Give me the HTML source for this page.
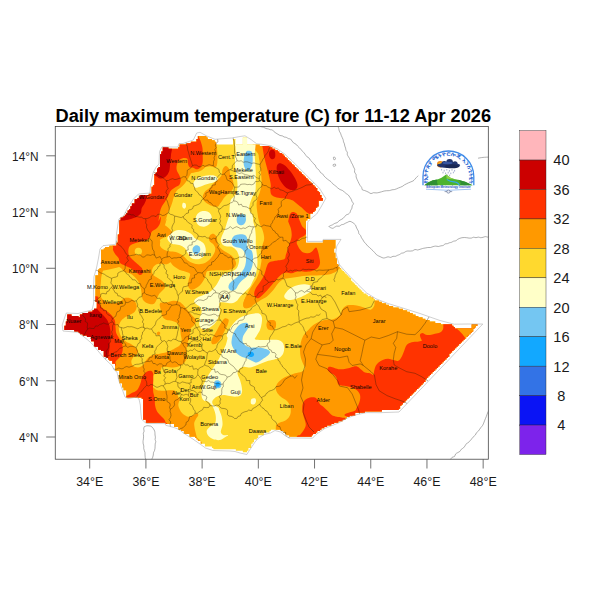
<!DOCTYPE html>
<html><head><meta charset="utf-8"><title>Daily maximum temperature</title>
<style>
html,body{margin:0;padding:0;background:#fff;}
body{width:600px;height:600px;overflow:hidden;position:relative;font-family:"Liberation Sans",sans-serif;}
svg{position:absolute;left:0;top:0;display:block}
text{font-family:"Liberation Sans",sans-serif;}
.zl{font-size:5.6px;fill:#0a0703;text-anchor:middle}
.ax{font-size:13.2px;fill:#1a1a1a}
.cb{font-size:15.4px;fill:#1a1a1a}
</style></head><body>
<svg width="600" height="600" viewBox="0 0 600 600">
<rect x="0" y="0" width="600" height="600" fill="#fff"/>

<defs><clipPath id="fr"><rect x="55.25" y="126.5" width="433.05" height="332.7"/></clipPath>
<clipPath id="eth"><path d="M197.89,136.11h8.43v1.45h-8.43zM197.89,137.51h9.83v1.45h-9.83zM242.83,137.51h4.21v1.45h-4.21zM196.48,138.92h15.45v1.45h-15.45zM233.00,138.92h2.81v1.45h-2.81zM242.83,138.92h4.21v1.45h-4.21zM196.48,140.32h18.26v1.45h-18.26zM233.00,140.32h2.81v1.45h-2.81zM242.83,140.32h4.21v1.45h-4.21zM190.86,141.73h25.28v1.45h-25.28zM233.00,141.73h2.81v1.45h-2.81zM242.83,141.73h4.21v1.45h-4.21zM186.65,143.13h29.49v1.45h-29.49zM233.00,143.13h2.81v1.45h-2.81zM242.83,143.13h4.21v1.45h-4.21zM179.63,144.53h80.06v1.45h-80.06zM179.63,145.94h89.89v1.45h-89.89zM162.77,147.34h5.62v1.45h-5.62zM178.22,147.34h94.10v1.45h-94.10zM162.77,148.75h112.36v1.45h-112.36zM162.77,150.15h115.17v1.45h-115.17zM161.37,151.56h117.98v1.45h-117.98zM161.37,152.96h120.79v1.45h-120.79zM159.97,154.37h123.60v1.45h-123.60zM159.97,155.77h125.00v1.45h-125.00zM159.97,157.17h126.41v1.45h-126.41zM159.97,158.58h127.81v1.45h-127.81zM159.97,159.98h129.21v1.45h-129.21zM159.97,161.39h130.62v1.45h-130.62zM159.97,162.79h132.02v1.45h-132.02zM159.97,164.20h133.43v1.45h-133.43zM159.97,165.60h134.83v1.45h-134.83zM158.56,167.01h137.64v1.45h-137.64zM157.16,168.41h140.45v1.45h-140.45zM157.16,169.81h141.85v1.45h-141.85zM157.16,171.22h143.26v1.45h-143.26zM155.75,172.62h146.07v1.45h-146.07zM154.35,174.03h148.88v1.45h-148.88zM154.35,175.43h150.28v1.45h-150.28zM154.35,176.84h151.69v1.45h-151.69zM154.35,178.24h153.09v1.45h-153.09zM154.35,179.65h154.50v1.45h-154.50zM154.35,181.05h155.90v1.45h-155.90zM154.35,182.46h157.30v1.45h-157.30zM154.35,183.86h158.71v1.45h-158.71zM152.94,185.26h161.52v1.45h-161.52zM151.54,186.67h164.33v1.45h-164.33zM151.54,188.07h165.73v1.45h-165.73zM151.54,189.48h165.73v1.45h-165.73zM151.54,190.88h167.14v1.45h-167.14zM151.54,192.29h168.54v1.45h-168.54zM148.73,193.69h171.35v1.45h-171.35zM140.30,195.10h181.18v1.45h-181.18zM138.90,196.50h182.59v1.45h-182.59zM137.49,197.91h185.39v1.45h-185.39zM134.68,199.31h188.20v1.45h-188.20zM134.68,200.71h183.99v1.45h-183.99zM134.68,202.12h183.99v1.45h-183.99zM131.88,203.52h186.80v1.45h-186.80zM131.88,204.93h186.80v1.45h-186.80zM130.47,206.33h186.80v1.45h-186.80zM130.47,207.74h185.39v1.45h-185.39zM129.07,209.14h186.80v1.45h-186.80zM127.66,210.55h186.80v1.45h-186.80zM127.66,211.95h185.39v1.45h-185.39zM126.26,213.35h183.99v1.45h-183.99zM124.85,214.76h185.39v1.45h-185.39zM123.45,216.16h186.80v1.45h-186.80zM120.64,217.57h189.61v1.45h-189.61zM120.64,218.97h186.80v1.45h-186.80zM119.23,220.38h186.80v1.45h-186.80zM119.23,221.78h186.80v1.45h-186.80zM119.23,223.19h186.80v1.45h-186.80zM119.23,224.59h186.80v1.45h-186.80zM119.23,226.00h186.80v1.45h-186.80zM119.23,227.40h186.80v1.45h-186.80zM119.23,228.80h186.80v1.45h-186.80zM119.23,230.21h186.80v1.45h-186.80zM119.23,231.61h186.80v1.45h-186.80zM119.23,233.02h186.80v1.45h-186.80zM117.83,234.42h188.20v1.45h-188.20zM117.83,235.83h188.20v1.45h-188.20zM117.83,237.23h188.20v1.45h-188.20zM117.83,238.64h188.20v1.45h-188.20zM117.83,240.04h188.20v1.45h-188.20zM322.89,240.04h12.64v1.45h-12.64zM117.83,241.44h188.20v1.45h-188.20zM322.89,241.44h12.64v1.45h-12.64zM116.43,242.85h219.10v1.45h-219.10zM116.43,244.25h219.10v1.45h-219.10zM109.40,245.66h226.12v1.45h-226.12zM105.19,247.06h230.34v1.45h-230.34zM103.79,248.47h230.34v1.45h-230.34zM100.98,249.87h233.15v1.45h-233.15zM100.98,251.28h233.15v1.45h-233.15zM100.98,252.68h234.55v1.45h-234.55zM100.98,254.09h234.55v1.45h-234.55zM100.98,255.49h234.55v1.45h-234.55zM100.98,256.89h234.55v1.45h-234.55zM100.98,258.30h235.96v1.45h-235.96zM100.98,259.70h235.96v1.45h-235.96zM100.98,261.11h235.96v1.45h-235.96zM100.98,262.51h235.96v1.45h-235.96zM100.98,263.92h237.36v1.45h-237.36zM100.98,265.32h237.36v1.45h-237.36zM100.98,266.73h238.77v1.45h-238.77zM99.57,268.13h241.57v1.45h-241.57zM98.17,269.53h244.38v1.45h-244.38zM98.17,270.94h245.79v1.45h-245.79zM98.17,272.34h247.19v1.45h-247.19zM98.17,273.75h248.60v1.45h-248.60zM95.36,275.15h252.81v1.45h-252.81zM95.36,276.56h254.21v1.45h-254.21zM95.36,277.96h255.62v1.45h-255.62zM95.36,279.37h255.62v1.45h-255.62zM95.36,280.77h257.02v1.45h-257.02zM95.36,282.18h258.43v1.45h-258.43zM95.36,283.58h259.83v1.45h-259.83zM95.36,284.98h261.24v1.45h-261.24zM95.36,286.39h262.64v1.45h-262.64zM95.36,287.79h264.05v1.45h-264.05zM95.36,289.20h265.45v1.45h-265.45zM95.36,290.60h266.86v1.45h-266.86zM95.36,292.01h268.26v1.45h-268.26zM95.36,293.41h271.07v1.45h-271.07zM95.36,294.82h272.47v1.45h-272.47zM95.36,296.22h275.28v1.45h-275.28zM95.36,297.62h278.09v1.45h-278.09zM95.36,299.03h279.50v1.45h-279.50zM95.36,300.43h283.71v1.45h-283.71zM96.76,301.84h285.11v1.45h-285.11zM96.76,303.24h289.33v1.45h-289.33zM96.76,304.65h292.14v1.45h-292.14zM96.76,306.05h296.35v1.45h-296.35zM96.76,307.46h301.97v1.45h-301.97zM93.95,308.86h308.99v1.45h-308.99zM92.55,310.26h314.61v1.45h-314.61zM88.34,311.67h321.63v1.45h-321.63zM82.72,313.07h330.06v1.45h-330.06zM67.27,314.48h4.21v1.45h-4.21zM79.91,314.48h335.68v1.45h-335.68zM67.27,315.88h11.24v1.45h-11.24zM79.91,315.88h338.48v1.45h-338.48zM67.27,317.29h355.34v1.45h-355.34zM67.27,318.69h358.15v1.45h-358.15zM67.27,320.10h362.36v1.45h-362.36zM65.86,321.50h369.38v1.45h-369.38zM65.86,322.91h375.00v1.45h-375.00zM65.86,324.31h386.24v1.45h-386.24zM471.76,324.31h5.62v1.45h-5.62zM64.46,325.71h389.05v1.45h-389.05zM471.76,325.71h4.21v1.45h-4.21zM64.46,327.12h390.45v1.45h-390.45zM471.76,327.12h2.81v1.45h-2.81zM64.46,328.52h408.71v1.45h-408.71zM74.29,329.93h398.88v1.45h-398.88zM78.50,331.33h393.26v1.45h-393.26zM79.91,332.74h390.45v1.45h-390.45zM82.72,334.14h386.24v1.45h-386.24zM86.93,335.55h380.62v1.45h-380.62zM91.14,336.95h375.00v1.45h-375.00zM91.14,338.36h373.60v1.45h-373.60zM91.14,339.76h372.19v1.45h-372.19zM93.95,341.16h367.98v1.45h-367.98zM93.95,342.57h366.57v1.45h-366.57zM93.95,343.97h365.17v1.45h-365.17zM93.95,345.38h363.77v1.45h-363.77zM98.17,346.78h358.15v1.45h-358.15zM98.17,348.19h356.74v1.45h-356.74zM100.98,349.59h352.53v1.45h-352.53zM103.79,351.00h348.32v1.45h-348.32zM103.79,352.40h346.91v1.45h-346.91zM103.79,353.80h345.51v1.45h-345.51zM103.79,355.21h345.51v1.45h-345.51zM106.59,356.61h341.29v1.45h-341.29zM108.00,358.02h338.48v1.45h-338.48zM109.40,359.42h335.68v1.45h-335.68zM112.21,360.83h331.46v1.45h-331.46zM112.21,362.23h330.06v1.45h-330.06zM115.02,363.64h325.84v1.45h-325.84zM115.02,365.04h324.44v1.45h-324.44zM115.02,366.45h323.04v1.45h-323.04zM115.02,367.85h321.63v1.45h-321.63zM115.02,369.25h320.23v1.45h-320.23zM119.23,370.66h314.61v1.45h-314.61zM119.23,372.06h313.20v1.45h-313.20zM119.23,373.47h311.80v1.45h-311.80zM119.23,374.87h310.39v1.45h-310.39zM119.23,376.28h308.99v1.45h-308.99zM119.23,377.68h307.59v1.45h-307.59zM119.23,379.09h306.18v1.45h-306.18zM119.23,380.49h306.18v1.45h-306.18zM119.23,381.89h304.78v1.45h-304.78zM122.04,383.30h300.56v1.45h-300.56zM122.04,384.70h299.16v1.45h-299.16zM122.04,386.11h297.75v1.45h-297.75zM123.45,387.51h294.94v1.45h-294.94zM123.45,388.92h293.54v1.45h-293.54zM126.26,390.32h289.33v1.45h-289.33zM126.26,391.73h287.92v1.45h-287.92zM126.26,393.13h286.52v1.45h-286.52zM126.26,394.54h285.11v1.45h-285.11zM126.26,395.94h283.71v1.45h-283.71zM141.71,397.34h266.86v1.45h-266.86zM143.11,398.75h264.05v1.45h-264.05zM143.11,400.15h262.64v1.45h-262.64zM143.11,401.56h261.24v1.45h-261.24zM143.11,402.96h259.83v1.45h-259.83zM143.11,404.37h258.43v1.45h-258.43zM143.11,405.77h257.02v1.45h-257.02zM143.11,407.18h257.02v1.45h-257.02zM143.11,408.58h255.62v1.45h-255.62zM143.11,409.98h238.77v1.45h-238.77zM143.11,411.39h221.91v1.45h-221.91zM143.11,412.79h212.08v1.45h-212.08zM143.11,414.20h212.08v1.45h-212.08zM143.11,415.60h206.46v1.45h-206.46zM143.11,417.01h203.65v1.45h-203.65zM143.11,418.41h202.25v1.45h-202.25zM145.92,419.82h196.63v1.45h-196.63zM145.92,421.22h192.42v1.45h-192.42zM165.58,422.62h168.54v1.45h-168.54zM174.01,424.03h157.30v1.45h-157.30zM174.01,425.43h153.09v1.45h-153.09zM178.22,426.84h146.07v1.45h-146.07zM178.22,428.24h143.26v1.45h-143.26zM181.03,429.65h89.89v1.45h-89.89zM280.75,429.65h39.33v1.45h-39.33zM183.84,431.05h85.67v1.45h-85.67zM283.56,431.05h33.71v1.45h-33.71zM183.84,432.46h80.06v1.45h-80.06zM284.97,432.46h30.90v1.45h-30.90zM189.46,433.86h74.44v1.45h-74.44zM286.37,433.86h26.69v1.45h-26.69zM189.46,435.27h68.82v1.45h-68.82zM289.18,435.27h22.47v1.45h-22.47zM195.08,436.67h63.20v1.45h-63.20zM196.48,438.07h60.39v1.45h-60.39zM197.89,439.48h56.18v1.45h-56.18zM200.70,440.88h53.37v1.45h-53.37zM200.70,442.29h51.97v1.45h-51.97zM204.91,443.69h46.35v1.45h-46.35zM204.91,445.10h46.35v1.45h-46.35zM211.93,446.50h39.33v1.45h-39.33zM213.34,447.91h35.11v1.45h-35.11zM235.81,449.31h12.64v1.45h-12.64zM242.83,450.72h4.21v1.45h-4.21z"/></clipPath><clipPath id="ethb"><path d="M193.3,140 196.7,133 200,132.3 206.7,136 215,139.3 231.7,138 240,136.5 245,135.8 251,139.5 256.7,143.8 262,144.3 271,145.8 278,149.3 285,154.3 292,160.8 299,167.8 306,174.8 313,181.8 319.5,188.3 323.5,194.8 325.8,198.3 321,207 316.7,214 311,218.5 307.7,222 307.2,241.4 323,241.4 323.3,239.4 341,239.4 336.8,246 335.8,252.5 337.2,258 339.3,264.5 344,270 350,276.5 357.5,284 366.7,293 376,298.8 388,303.5 400,307.2 420,313.5 440,320.5 454.2,324.2 468,324 482.8,324 479,328 440,369 399,412 380,412.7 366.5,412.6 356,414.8 347,418.2 338,423.2 325,428.3 316,434.5 312.5,438.2 301.7,438 289,438 285,435.6 280.5,432 275,430.5 270.5,433 264,434.5 258.5,438 255,442 252,446.5 249,451 246.8,454.5 240,453 235,451.5 230,451 213,450.5 205.5,448 200,444 192,438.5 185,434 178.5,429.3 174,427.5 165.8,425.3 165,423.6 146.5,423.5 143.3,421 141.5,419 140.8,412 140.3,405 139,399 136.5,397 130,398.3 128,398.5 125,397 123,391.5 121,386 118.6,380 117,372 114.2,370 112,365.5 106,360 101,354.5 96,348.5 91.3,343 86,338.5 78,332.3 63,331 62.2,325 64.5,318 66.3,313 78,313.5 81.3,312.7 92,310 93.5,304 93.8,300 93.5,290 94,276.5 96.5,268 98.5,258 100,249 103,245.7 115.8,244.3 116.5,234 118.3,222 119,219 124,215.3 127,209 130,204.3 133.5,199 138.5,194 150,193 150.5,185.5 153,173 156,167.3 159,164 159.5,151.5 162,146.8 170,147 178,147 179,143.5 183,143.5Z"/></clipPath></defs>
<g clip-path="url(#fr)" fill="none" stroke="#7c7c7c" stroke-width="0.6" stroke-linejoin="round">
<path d="M258,126C258.5,126.1 259.8,126.4 260.7,126.6C261.6,126.8 262.6,126.9 263.5,127.2C264.3,127.6 265.2,128.2 266,128.5C266.8,128.8 267.5,128.7 268.2,128.9C268.9,129.1 269.6,129.5 270.3,129.7C271,129.8 271.9,129.7 272.5,130C273.1,130.3 273.5,131.3 274.1,131.8C274.7,132.3 275.4,132.7 276,133.1C276.7,133.5 277.3,133.9 278,134.3C278.6,134.7 279.3,135.2 280,135.5C280.7,135.8 281.5,135.6 282.2,135.8C282.9,136.1 283.5,136.7 284.2,137C284.9,137.2 285.7,137.1 286.4,137.4C287.1,137.6 287.6,138.3 288.3,138.6C289,138.9 289.9,138.6 290.5,139C291.1,139.4 291.5,140.3 292,141C292.6,141.6 293,142.3 293.6,142.9C294.3,143.4 295.2,143.6 295.9,144.1C296.5,144.7 296.9,145.4 297.5,146C298.1,146.6 298.7,147.1 299.3,147.7C299.9,148.3 300.5,148.9 301,149.5C301.5,150.1 301.9,150.7 302.5,151.3C303,151.9 303.6,152.4 304.1,152.9C304.6,153.5 305,154.2 305.5,154.8C306,155.5 306.4,156.2 306.9,156.7C307.5,157.2 308.5,157.4 309,158C309.6,158.5 309.7,159.4 310.2,160C310.7,160.6 311.4,161 311.9,161.6C312.5,162.2 312.8,162.9 313.3,163.5C313.8,164.1 314.6,164.4 315.1,165C315.6,165.6 315.6,166.6 316,167.3C316.5,167.9 317.2,168.3 317.7,168.9C318.3,169.4 318.9,169.9 319.4,170.5C319.9,171.1 320,172 320.5,172.6C321.1,173.2 322.1,173.3 322.6,173.9C323.2,174.4 323.4,175.2 323.9,175.8C324.4,176.4 324.9,177 325.5,177.5C326.1,178 326.7,178.5 327.3,179C327.9,179.4 328.5,179.9 329.1,180.4C329.7,180.8 330.5,181.2 331,181.7C331.6,182.2 331.9,183 332.5,183.6C333,184.1 333.7,184.6 334.3,185C334.9,185.5 335.5,185.9 336.1,186.4C336.7,186.9 337.2,187.5 337.8,188C338.4,188.5 339.1,189.1 339.9,189.5C340.6,189.9 341.5,190 342.3,190.4C343,190.8 343.6,191.4 344.3,191.9C345,192.4 345.5,193.1 346.2,193.6C346.9,194.1 347.7,194.4 348.3,195C348.9,195.6 349.4,196.4 349.8,197.1C350.3,197.8 350.8,198.4 351.2,199.2C351.6,200 351.7,200.9 352.1,201.6C352.5,202.4 353.5,203.1 353.5,203.8C353.5,204.5 352.5,205.1 352.2,205.8C352,206.6 352.2,207.5 351.9,208.2C351.7,209 351.1,209.6 350.7,210.3C350.4,211 350.4,211.9 350,212.5C349.6,213.1 349,213.7 348.4,214.1C347.8,214.5 346.8,214.5 346.2,214.9C345.6,215.3 345.2,216.1 344.7,216.6C344.2,217.2 343.8,217.8 343.2,218.3C342.6,218.8 342,219.1 341.3,219.5C340.6,219.9 339.7,220.2 339.1,220.8C338.4,221.3 337.9,222.2 337.2,222.6C336.4,223.1 335.4,223 334.7,223.4C333.9,223.8 333.4,224.3 332.5,224.8C331.6,225.3 329,225.9 329,226.5C329,227.1 331.6,228.2 332.5,228.3C333.4,228.4 333.9,227.6 334.6,227.2C335.3,226.9 336,226.3 336.7,226.1C337.5,226 338.5,226.4 339.3,226.2C340.1,226 340.6,225.1 341.3,224.8C342,224.5 342.9,224.6 343.6,224.3C344.4,224 345,223.5 345.7,223.1C346.4,222.8 347.1,222.5 347.8,222.2C348.5,221.9 349.2,221.2 350,221.3C350.8,221.4 352,222.2 352.9,222.7C353.7,223.3 354.7,224.1 355.3,224.8C355.9,225.5 355.9,226.2 356.2,227C356.5,227.7 356.8,228.4 357.2,229.1C357.5,229.8 358.1,230.4 358.4,231.1C358.7,231.9 358.5,232.8 358.8,233.5C359.1,234.2 360,234.7 360.5,235.4C360.9,236.1 361.1,237 361.5,237.8C361.9,238.5 362.4,239.1 362.9,239.8C363.4,240.5 363.7,241.3 364.2,242C364.7,242.6 365.4,243.2 365.9,243.8C366.5,244.5 366.9,245.2 367.5,245.8C368.1,246.4 368.8,246.8 369.4,247.4C370,247.9 370.6,248.5 371.2,249.1C371.8,249.7 372.5,250.2 373,250.8C373.6,251.3 374.1,252 374.7,252.6C375.2,253.2 375.7,253.9 376.3,254.5C376.9,255.1 377.8,255.5 378.5,255.9C379.3,256.3 380.1,256.7 380.9,257C381.7,257.4 382.5,257.9 383.3,258C384.1,258.1 384.9,257.8 385.7,257.6C386.5,257.4 387.3,256.8 388.1,256.8C388.9,256.8 389.9,257.5 390.7,257.4C391.5,257.3 392.2,256.5 393,256.3C393.8,256.2 394.8,256.5 395.5,256.3C396.2,256.1 396.8,255.6 397.5,255.3C398.2,255 398.9,254.9 399.6,254.5C400.3,254.2 400.8,253.5 401.5,253.2C402.2,253 403,253.1 403.7,252.8C404.4,252.6 404.9,251.9 405.6,251.6C406.3,251.2 407,251.1 407.8,251C408.6,250.9 409.5,251.2 410.3,251.1C411.1,251.1 412,251 412.7,250.8C413.5,250.5 414.2,249.6 415,249.5C415.9,249.3 416.8,250 417.6,250C418.4,249.9 419.2,249.5 420,249.3C420.8,249.1 421.7,248.7 422.6,248.5C423.4,248.2 424.3,248.2 425.2,248C426.1,247.9 426.9,247.6 427.8,247.5C428.7,247.4 429.6,247.6 430.5,247.5C431.4,247.4 432.2,246.8 433.1,246.6C433.9,246.4 434.8,246.1 435.7,246.1C436.6,246.1 437.5,246.5 438.4,246.5C439.3,246.4 440.2,246 441,245.8C441.8,245.6 442.6,245.8 443.2,245.5C443.9,245.2 444.3,244.2 445,243.9C445.7,243.6 446.6,243.9 447.3,243.7C448,243.5 448.6,243 449.3,242.8C450,242.6 450.8,242.6 451.5,242.3C452.2,242 452.8,241.4 453.5,241.2C454.2,240.9 455.1,241.1 455.8,240.8C456.5,240.5 457.1,239.8 457.7,239.3C458.4,238.9 459,238.6 459.8,238.3C460.5,238 461.2,237.8 462,237.7C462.8,237.6 463.6,237.5 464.3,237.5C465.1,237.5 465.9,237.6 466.7,237.7C467.4,237.8 468.2,238 469,238.1C469.8,238.2 470.6,238.2 471.3,238.1C472.1,237.9 472.9,237.3 473.7,237.2C474.4,237.2 475.2,237.7 476,237.7C476.8,237.7 477.5,237.1 478.3,237.1C479.1,237.1 479.9,237.6 480.7,237.7C481.5,237.7 482.3,237.5 483,237.3C483.8,237.2 484.5,236.6 485.3,236.6C486.1,236.5 486.9,237.1 487.7,237.1C488.5,237 489.6,236.4 490,236.3"/>
<path d="M337.5,124C337.6,124.4 337.8,125.6 338,126.4C338.3,127.2 338.6,127.9 338.8,128.7C339,129.5 339,130.3 339.3,131.1C339.6,131.8 340.1,132.5 340.5,133.2C340.8,134 341,134.8 341.3,135.5C341.6,136.2 341.9,136.9 342.2,137.5C342.5,138.2 342.9,138.9 343.1,139.6C343.4,140.3 343.3,141 343.5,141.8C343.7,142.5 344.2,143.1 344.4,143.8C344.6,144.5 344.6,145.3 344.8,146C345,146.7 345.4,147.3 345.6,148.1C345.8,148.8 345.7,149.6 346,150.3C346.2,151 347.1,151.5 347.3,152.2C347.5,152.9 347.1,153.8 347.3,154.5C347.4,155.2 347.9,155.8 348.3,156.5C348.7,157.2 349.1,157.8 349.5,158.5C349.9,159.2 350.3,159.9 350.6,160.6C350.9,161.3 351.2,162.1 351.5,162.8C351.8,163.5 352.3,164.1 352.7,164.8C353,165.5 353.2,166.2 353.5,167C353.8,167.8 354.6,168.5 354.7,169.3C354.9,170.2 354.3,171.2 354.5,172C354.7,172.9 355.7,173.5 356,174.3C356.3,175.1 356,176 356.1,176.9C356.3,177.7 356.7,178.5 357,179.3C357.3,180.1 357.7,180.7 358,181.4C358.4,182.1 358.7,182.8 359,183.5C359.4,184.2 359.7,184.9 360.2,185.6C360.6,186.3 361.4,186.8 361.7,187.5C362.1,188.2 361.8,189.3 362.3,189.8C362.8,190.3 363.8,190.2 364.6,190.5C365.3,190.8 366,191.1 366.8,191.4C367.5,191.8 368.2,192.1 368.9,192.4C369.6,192.8 370.2,193.6 371,193.6C371.8,193.6 372.7,192.8 373.5,192.7C374.4,192.6 375.4,193 376.3,192.9C377.2,192.9 378.1,192.7 378.9,192.5C379.8,192.3 380.6,192.1 381.5,191.8C382.4,191.5 383.2,191.2 384.1,191C384.9,190.8 385.8,190.7 386.7,190.7C387.6,190.6 388.6,190.8 389.4,190.6C390.3,190.5 391.2,190 392,189.8C392.8,189.6 393.5,189.7 394.3,189.6C395,189.4 395.7,189.1 396.4,188.9C397,188.6 397.7,188.3 398.4,188C399.1,187.7 399.8,187.5 400.5,187.2C401.2,186.9 401.8,186.7 402.5,186.3C403.2,185.9 403.8,185.3 404.4,184.9C405.1,184.5 405.8,184.1 406.5,183.8C407.2,183.4 407.9,183.1 408.6,182.8C409.4,182.5 410.1,182.2 410.8,181.9C411.5,181.6 412.3,181.4 413,181C413.7,180.6 414.3,179.9 414.8,179.3C415.4,178.7 415.9,178 416.5,177.4C417.1,176.8 418,175.9 418.3,175.6"/>
<path d="M478,158.2C478.8,158.1 481,157.6 483,157.4C485,157.2 488.8,157.1 490,157"/>
<path d="M333.5,157.2C333.7,156.9 334.9,157.2 335.2,157.6C335.5,157.9 335.5,159 335.3,159.3C335.1,159.6 334.1,159.9 333.8,159.6C333.5,159.2 333.3,157.5 333.5,157.2Z"/>
<path d="M333.2,164.6C333.5,164.2 335,164 335.4,164.2C335.8,164.4 335.9,165.5 335.6,165.8C335.3,166.2 334,166.5 333.6,166.3C333.2,166.1 332.9,164.9 333.2,164.6Z"/>
<path d="M490,408C489.8,408.3 489.4,409.4 489.1,410C488.7,410.7 488.3,411.3 488,412C487.7,412.7 487.4,413.5 487.1,414.2C486.9,415 486.6,415.7 486.3,416.5C486,417.2 485.8,418 485.4,418.7C485.1,419.4 484.8,420.1 484.5,420.9C484.2,421.6 484,422.4 483.7,423.1C483.4,423.9 483.1,424.6 482.7,425.3C482.3,426 481.6,426.5 481.1,427.2C480.6,427.8 480.2,428.5 479.7,429.2C479.2,429.8 478.8,430.5 478.3,431.2C477.7,431.8 476.9,432.2 476.4,432.8C476,433.5 475.8,434.4 475.3,435.1C474.8,435.7 474,436.1 473.4,436.7C472.9,437.3 472.5,438.1 472,438.7C471.5,439.3 470.7,439.8 470.2,440.4C469.6,441 469.2,441.8 468.6,442.4C467.9,442.9 467,443.2 466.4,443.7C465.8,444.3 465.5,445.2 465,445.9C464.5,446.6 464.1,447.3 463.4,447.9C462.8,448.5 461.9,448.7 461.3,449.3C460.7,449.9 460.5,450.8 459.9,451.4C459.3,451.9 458.5,452.2 457.8,452.6C457,453 456.2,453.3 455.7,453.9C455.1,454.5 455.2,455.8 454.6,456.4C454.1,456.9 452.8,456.8 452.1,457.3C451.5,457.7 451.2,458.6 450.7,459.2C450.1,459.9 449.3,460.7 449,461"/>
<path d="M144.2,426.7C144.6,426.6 145.9,425.9 146.7,425.8C147.5,425.7 148.4,425.7 149.3,425.9C150.1,426 150.9,426 151.7,426.7C152.5,427.4 153.7,429 154.2,430C154.7,431 154.8,431.6 154.9,432.4C155.1,433.3 154.9,434.2 155,435C155.1,435.8 155.4,436.5 155.4,437.2C155.4,438 155.1,438.8 155.1,439.5C155.2,440.3 155.8,441 155.8,441.7C155.8,442.4 155.3,443.1 155.2,443.9C155.1,444.6 155.1,445.3 155.1,446.1C155.1,446.8 155.1,447.6 155,448.3C154.9,449 154.7,449.8 154.5,450.6C154.3,451.3 153.7,451.9 153.5,452.7C153.3,453.4 153.4,454.2 153.3,455C153.2,455.8 153,456.6 152.7,457.3C152.4,458.1 151.9,458.8 151.7,459.6C151.5,460.3 151.5,461.6 151.5,462"/>
<path d="M144.2,426.7C144.1,427.1 143.7,428.1 143.7,428.9C143.7,429.6 144.2,430.4 144.1,431.2C144,431.9 143.4,432.5 143.3,433.3C143.2,434.1 143.6,435.2 143.6,436.1C143.6,437 143.5,438 143.4,438.9C143.3,439.8 143,440.9 143,441.7C143,442.5 143.1,443.2 143.2,443.9C143.4,444.6 143.8,445.3 143.8,446.1C143.9,446.8 143.6,447.6 143.7,448.3C143.8,449 144.1,449.8 144.3,450.5C144.5,451.2 144.8,451.9 145,452.7C145.1,453.4 145,454.2 145,455C145,455.8 145.1,456.6 145.2,457.4C145.3,458.2 145.5,459 145.7,459.7C145.9,460.5 146.4,461.6 146.5,462"/>
</g>
<g clip-path="url(#eth)">
<rect x="50" y="120" width="450" height="345" fill="#FFD92E"/>
<path d="M210,126.7C236.1,134.4 215.6,140.1 216.7,146.7C217.8,153.2 217.8,162.6 216.7,165.8C215.6,169.1 212.2,166.1 210,166.3C207.8,166.6 205.6,167 203.3,167.5C201.1,168 198.6,168.3 196.7,169.2C194.7,170 193.1,171 191.7,172.5C190.3,174 189.4,176.5 188.3,178.3C187.2,180.1 186.2,181.8 185,183.3C183.8,184.9 182.2,186.2 180.8,187.5C179.4,188.8 177.8,189.4 176.7,190.8C175.6,192.2 174.9,194 174.2,195.8C173.5,197.6 173.1,199.9 172.5,201.7C171.9,203.5 171.5,205 170.8,206.7C170.1,208.3 169,210 168.3,211.7C167.6,213.3 167.2,215 166.7,216.7C166.1,218.3 165,221.4 165,221.7C165,221.9 166.7,217.8 166.7,218.3C166.7,218.9 165.7,223.1 165,225C164.3,226.9 163.3,228.3 162.5,230C161.7,231.7 160.6,233.3 160,235C159.4,236.7 159.2,238.3 159.2,240C159.1,241.7 160.1,243.3 159.7,245C159.2,246.7 158.8,247.5 156.7,250C154.5,252.5 162.8,258.3 146.7,260C130.6,261.7 74.4,286.7 60,260C45.6,233.3 35,122.2 60,100C85,77.8 183.9,118.9 210,126.7Z" fill="#FF9900"/>
<path d="M196.7,133.3C201.1,133.6 204.8,133.9 206.7,135C208.5,136.1 207.1,138.3 207.7,140C208.3,141.7 209.5,143.1 210.3,145C211.2,146.9 212.4,149.4 212.7,151.7C212.9,153.9 212.5,156.4 211.8,158.3C211.2,160.3 209.8,161.9 208.7,163.3C207.6,164.8 206.5,165.8 205.3,167C204.2,168.2 203.1,169.5 201.7,170.3C200.2,171.2 199.2,171.6 196.7,172C194.2,172.4 189.4,173.9 186.7,172.5C183.9,171.1 181.1,169.9 180,163.3C178.9,156.8 177.2,138.3 180,133.3C182.8,128.3 192.2,133.1 196.7,133.3Z" fill="#FF9900"/>
<path d="M225.8,166C224.7,166 223.4,167.7 222.7,169.2C222,170.7 222.3,173.4 221.7,175C221,176.6 219.8,177.6 218.7,178.7C217.6,179.8 216.4,180.2 215,181.7C213.6,183.1 211.7,185.8 210,187.5C208.3,189.2 205.9,190.2 204.7,192C203.4,193.8 202.5,196.2 202.7,198C202.9,199.8 204.3,201.2 205.8,202.5C207.3,203.8 209.7,205.1 211.7,205.8C213.6,206.5 216.1,207.1 217.5,206.7C218.9,206.3 219.1,205 220.3,203.3C221.6,201.7 223.2,198.6 225,196.7C226.8,194.7 229.4,193.3 230.8,191.7C232.3,190 233.4,188.6 233.7,186.7C234,184.7 233.2,181.9 232.7,180C232.1,178.1 230.7,176.8 230.2,175C229.6,173.2 230.1,170.8 229.3,169.3C228.6,167.8 226.9,166 225.8,166Z" fill="#FF9900"/>
<path d="M146.7,240C148.8,235.8 156.9,239 159.2,240C161.4,241 159.3,244.3 160,245.8C160.7,247.4 161.8,248.2 163.3,249.2C164.9,250.1 167.1,250.9 169.2,251.3C171.2,251.8 173.9,251.5 175.8,252C177.8,252.5 179.4,253.4 180.8,254.2C182.2,254.9 182.9,255.6 184.2,256.7C185.4,257.8 186.8,259.7 188.3,260.8C189.9,261.9 191.5,262.8 193.3,263.3C195.1,263.9 197.1,264.3 199.2,264.2C201.2,264 203.9,263.5 205.8,262.5C207.8,261.5 209.4,259.9 210.8,258.3C212.2,256.8 213.4,255 214.2,253.3C214.9,251.7 215.5,249.9 215.3,248.3C215.2,246.8 214.2,245.3 213.3,244.2C212.4,243.1 210.8,242.6 210,241.7C209.2,240.7 208.8,239.4 208.8,238.3C208.9,237.2 209.6,235.8 210.3,235C211.1,234.2 212.3,233.4 213.3,233.7C214.3,233.9 215.7,235.1 216.3,236.3C217,237.5 217,239.4 217.3,240.8C217.7,242.3 217.6,243.6 218.3,245C219.1,246.4 220.3,247.9 221.7,249.2C223.1,250.4 225,251.4 226.7,252.5C228.3,253.6 230.3,254.6 231.7,255.8C233.1,257.1 234.3,258.6 235,260C235.7,261.4 236.3,262.8 236,264.2C235.7,265.6 234.9,267.3 233.3,268.3C231.8,269.4 229.2,270 226.7,270.3C224.2,270.7 221.1,270.2 218.3,270.3C215.6,270.4 211.9,270.6 210,270.8C208.1,271.1 207.4,270.7 206.7,271.7C205.9,272.6 205.9,275.1 205.3,276.7C204.8,278.2 204.2,279.4 203.3,280.8C202.4,282.3 201.4,284 200,285.3C198.6,286.6 196.5,287.9 195,288.7C193.5,289.4 192,290.1 190.8,289.7C189.7,289.2 188.4,287.4 188,285.8C187.6,284.2 188.3,282 188.7,280C189,278 190.6,275.2 190,273.8C189.4,272.4 186.8,272.2 185,271.5C183.2,270.8 181.1,270.6 179.2,269.7C177.2,268.7 174.9,267.1 173.3,265.8C171.8,264.6 171.4,262.8 170,262C168.6,261.2 166.7,260.8 165,260.8C163.3,260.8 161.4,261.6 160,262C158.6,262.4 158.3,262.6 156.7,263C155,263.4 151.7,263.8 150,264.2C148.3,264.5 147.2,269 146.7,265C146.1,261 144.6,244.2 146.7,240Z" fill="#FF9900"/>
<path d="M98,240C113,236.2 137.7,223.3 150,222C162.3,220.7 170.3,229 172,232C173.7,235 162.2,237.7 160,240C157.8,242.3 158.8,244 159,246C159.2,248 160,250 161,252C162,254 163.5,256.5 165,258C166.5,259.5 169.3,260.2 170,261C170.7,261.8 170,262.4 169.3,263C168.6,263.6 167.3,264.2 166,264.3C164.7,264.4 162.9,263.7 161.3,263.7C159.8,263.7 158,263.8 156.7,264.3C155.4,264.9 154.1,265.9 153.3,267C152.5,268.1 152,269.7 152,271C152,272.3 152.4,273.9 153.3,275C154.2,276.1 156,276.8 157.3,277.7C158.6,278.6 160.1,279.3 161.3,280.3C162.5,281.3 164,282.6 164.7,283.7C165.4,284.8 165.6,285.9 165.3,287C165,288.1 163.7,289.2 162.7,290.3C161.7,291.4 160.2,292.5 159.3,293.7C158.4,294.9 157.9,296.5 157.3,297.7C156.8,298.9 156.6,300 156,301C155.4,302 154.9,303.1 154,303.7C153.1,304.2 151.9,304.4 150.7,304.3C149.5,304.2 147.9,303.7 146.7,303C145.5,302.3 144.1,301.4 143.3,300.3C142.5,299.2 142.3,297.9 142,296.3C141.7,294.8 141.6,292.8 141.3,291C141,289.2 140.6,287.4 140,285.7C139.4,284 138.9,282.4 138,281C137.1,279.6 135.9,278.2 134.7,277C133.5,275.8 132.3,274.5 130.7,273.7C129.1,272.9 127.1,273.3 125.3,272.3C123.5,271.3 122,268.7 120,267.5C118,266.3 115.8,265 113.3,265C110.8,265 106.9,265.8 105,267.5C103.1,269.2 102.4,272.4 101.7,275C101,277.6 101.1,280.5 100.8,283.3C100.5,286.1 99.8,289.2 100,291.7C100.2,294.2 100.6,296.6 101.7,298.3C102.8,300 104.8,300.9 106.7,301.7C108.6,302.5 111.1,303.3 113.3,303.3C115.5,303.3 118.2,302.5 120,301.7C121.8,300.9 122.5,298.9 124.2,298.3C125.9,297.7 128.2,297.7 130,298.3C131.8,298.9 133.9,300.3 135,301.7C136.1,303.1 136.8,305 136.7,306.7C136.6,308.4 135.9,310.3 134.7,311.7C133.5,313.1 131.4,314 129.7,315C128,316 126.2,316.4 124.7,317.5C123.2,318.6 121.5,320 120.5,321.7C119.5,323.4 118.9,325.6 118.8,327.5C118.7,329.4 119.1,331.5 119.7,333.3C120.3,335.1 121.1,336.9 122.2,338.3C123.3,339.7 124.8,340.7 126.3,341.7C127.8,342.7 129.8,343.2 131.3,344.2C132.8,345.2 134.4,346.4 135.5,347.5C136.6,348.6 137.9,349.6 138,350.8C138.1,352.1 137.1,353.9 136.3,355C135.5,356.1 133.8,356.4 133,357.5C132.2,358.6 131.3,360.3 131.3,361.7C131.3,363.1 131.9,364.8 133,365.8C134.1,366.8 136.3,367.6 138,367.5C139.7,367.4 141.6,366.2 143,365C144.4,363.8 145.2,361.4 146.3,360C147.4,358.6 148.4,357.5 149.7,356.7C150.9,355.9 152.4,355.4 153.8,355C155.2,354.6 156.6,353.4 158,354.2C159.4,355 161.7,357 162,360C162.3,363 161.7,368.7 160,372C158.3,375.3 153.7,370.3 152,380C150.3,389.7 165.3,421.7 150,430C134.7,438.3 75,460.8 60,430C45,399.2 53.7,276.7 60,245C66.3,213.3 83,243.8 98,240Z" fill="#FF9900"/>
<path d="M160,303.3C161,302.1 164.5,302.9 166.7,302.5C168.9,302.1 171.2,300.9 173.3,300.8C175.4,300.7 177.5,301 179.2,301.7C180.9,302.4 181.9,303.6 183.3,305C184.7,306.4 186.1,308.3 187.5,310C188.9,311.7 190.3,313.3 191.7,315C193.1,316.7 195.4,318.3 195.8,320C196.2,321.7 195,323.6 194.2,325C193.4,326.4 191.5,326.9 190.8,328.3C190.1,329.7 190.3,331.6 190,333.3C189.7,335 189.6,336.6 189.2,338.3C188.8,340 187.9,341.4 187.5,343.3C187.1,345.2 186.5,347.8 186.5,350C186.5,352.2 187.8,354.8 187.5,356.7C187.2,358.6 186.2,360.2 185,361.7C183.8,363.2 181.9,364.8 180,365.8C178.1,366.8 175.7,367.4 173.3,367.5C170.9,367.6 168.2,366.7 165.8,366.7C163.5,366.7 161.3,367.1 159.2,367.5C157.1,367.9 155.4,368.6 153.3,369.2C151.2,369.8 147.9,372 146.7,370.8C145.5,369.6 145.5,364.4 146,362C146.5,359.6 148.4,357.9 149.7,356.7C151,355.5 152.4,355.4 153.8,355C155.2,354.6 156.7,354.5 158,354.2C159.3,353.9 160,353.7 161.7,353.3C163.4,352.9 166.1,352.5 168.3,351.7C170.5,350.9 173.1,349.4 175,348.3C176.9,347.2 178.9,346.4 180,345C181.1,343.6 181.6,341.7 181.7,340C181.8,338.3 181.1,336.9 180.8,335C180.5,333.1 180.6,330.2 180,328.3C179.4,326.4 178.9,324.6 177.5,323.3C176.1,322.1 173.5,321.4 171.7,320.8C169.9,320.2 168.2,320.7 166.7,320C165.2,319.3 163.5,318.4 162.5,316.7C161.5,315 161.2,312.2 160.8,310C160.4,307.8 159,304.6 160,303.3Z" fill="#FF9900"/>
<path d="M150,386C152.2,386.2 152.2,386.8 153.3,387.5C154.4,388.2 155,389.4 156.7,390C158.4,390.6 161.1,390.8 163.3,390.8C165.5,390.9 168.1,390.3 170,390.3C171.9,390.3 173.8,390 175,390.8C176.2,391.6 176.8,393.5 177.5,395C178.2,396.5 179.1,398.3 179.2,400C179.3,401.7 178.2,403.3 178.3,405C178.4,406.7 179.2,408.5 180,410C180.8,411.5 181.9,413.1 183.3,414.2C184.7,415.3 186.6,416.5 188.3,416.7C190,416.9 191.9,415.9 193.3,415.3C194.7,414.7 195.9,413.4 196.7,413.3C197.5,413.2 198.5,414 198.3,415C198.2,416 196.5,417.8 195.8,419.2C195.1,420.6 194.3,421.5 194.2,423.3C194.1,425.1 194.6,427.8 195,430C195.4,432.2 196.2,434.2 196.7,436.7C197.2,439.2 207.4,443.6 198,445C188.6,446.4 149.7,454.8 140,445C130.3,435.2 138.3,395.8 140,386C141.7,376.2 147.8,385.8 150,386Z" fill="#FF9900"/>
<path d="M225.8,318.3C226.7,318.4 228.4,318.9 228.7,320C228.9,321.1 228.2,323.1 227.5,325C226.8,326.9 225.3,329.4 224.2,331.7C223.1,333.9 222.1,336.4 220.8,338.3C219.6,340.3 218.1,342.4 216.7,343.3C215.3,344.3 213.4,344.6 212.5,344.2C211.6,343.8 211.1,342.4 211.3,340.8C211.6,339.3 213.1,336.9 214.2,335C215.2,333.1 216.4,331.1 217.5,329.2C218.6,327.2 219.9,324.9 220.8,323.3C221.8,321.8 222.5,320.5 223.3,319.7C224.2,318.8 224.9,318.3 225.8,318.3Z" fill="#FF9900"/>
<path d="M158.3,332C158.9,332 160,333.1 160,333.7C160,334.2 158.9,335.3 158.3,335.3C157.8,335.3 156.7,334.2 156.7,333.7C156.7,333.1 157.8,332 158.3,332Z" fill="#FF9900"/>
<path d="M158.7,331.4C159.2,331.4 160.3,332.5 160.3,333C160.3,333.5 159.2,334.6 158.7,334.6C158.1,334.6 157.1,333.5 157.1,333C157.1,332.5 158.1,331.4 158.7,331.4Z" fill="#FF9900"/>
<path d="M251.7,292.5C250.3,292.4 247.2,295.7 245.8,297.5C244.4,299.3 243.6,301.7 243.3,303.3C243.1,305 243.3,306.7 244.2,307.5C245,308.3 246.9,308.3 248.3,308C249.7,307.7 251.5,307.4 252.5,305.8C253.5,304.2 254.3,300.6 254.2,298.3C254,296.1 253.1,292.6 251.7,292.5Z" fill="#FF9900"/>
<path d="M257.8,140C245.9,144.2 258.3,151.1 258.6,155C258.9,158.9 259.4,160.2 259.8,163.3C260.2,166.4 260.7,170 261,173.3C261.3,176.6 261.8,180.2 261.6,183.3C261.4,186.4 260.7,189.2 260,191.7C259.3,194.2 258.2,196.1 257.6,198.3C257,200.5 256.6,202.5 256.6,205C256.6,207.5 257.1,210.5 257.5,213.3C257.9,216.1 258.2,218.9 259,221.7C259.8,224.5 261.6,227.2 262.5,230C263.4,232.8 264.2,235.8 264.2,238.3C264.2,240.8 263.1,242.8 262.5,245C261.9,247.2 260.9,249.5 260.8,251.7C260.7,253.9 261.7,256.1 261.7,258.3C261.7,260.5 261.2,262.8 260.8,265C260.4,267.2 259.9,269.5 259.2,271.7C258.5,273.9 257.8,276.1 256.7,278.3C255.6,280.5 253.9,282.8 252.5,285C251.1,287.2 249.6,289.5 248.3,291.7C247.1,293.9 245.8,296.1 245,298.3C244.2,300.5 243.3,303.3 243.3,305C243.3,306.7 243.9,308 245,308.3C246.1,308.6 248.2,307.5 250,306.7C251.8,305.9 254,304.4 255.8,303.3C257.6,302.2 259,301.1 260.8,300C262.6,298.9 264.6,298.4 266.7,296.7C268.8,295 271.4,292.2 273.3,290C275.2,287.8 276.6,285.1 278.3,283.3C280,281.5 281.4,280.1 283.3,279.2C285.2,278.3 287.7,278.4 290,278C292.3,277.6 294.8,277.3 297,277C299.2,276.7 300.8,276.2 303,276C305.2,275.8 307.7,275.6 310,275.5C312.3,275.4 314.5,275.6 316.7,275.5C318.9,275.4 321.1,275.2 323.3,275C325.5,274.8 327.9,274.8 330,274.2C332.1,273.6 334.3,272.6 335.8,271.7C337.3,270.8 337.7,270.3 339.2,268.7C340.7,267.1 341.5,273.4 345,262C348.5,250.6 362.5,222 360,200C357.5,178 347,140 330,130C313,120 269.7,135.8 257.8,140Z" fill="#FF9900"/>
<path d="M268.7,320.3C269.9,319.9 272.9,319.9 274.2,320.3C275.4,320.8 275.8,321.8 276,323C276.2,324.2 276.1,326.3 275.7,327.5C275.2,328.7 274.5,329.6 273.3,330C272.2,330.4 269.8,330.2 268.7,329.7C267.6,329.1 267,327.8 266.7,326.7C266.3,325.6 266.3,324.1 266.7,323C267,321.9 267.4,320.8 268.7,320.3Z" fill="#FF9900"/>
<path d="M380,295C359.2,295.8 376,298.2 375,300C374,301.8 374.9,304.2 374.2,305.8C373.5,307.4 372.2,309.3 370.8,309.7C369.4,310.1 367.6,308.9 365.8,308.3C364,307.7 362.1,306.8 360,306.2C357.9,305.6 355.5,305.1 353.3,305C351.1,304.9 348.5,304.8 346.7,305.5C344.9,306.2 343.6,307.6 342.5,309.2C341.4,310.8 341.5,313.3 340,315C338.5,316.7 335.8,318.4 333.3,319.2C330.8,320 327.4,319.6 325,320C322.6,320.4 321.1,320.9 319.2,321.7C317.2,322.5 315.1,323.6 313.3,325C311.5,326.4 310,328.2 308.3,330C306.6,331.8 304.6,333.7 303.3,335.8C302.1,337.9 301.4,340.1 300.8,342.5C300.2,344.9 300,347.5 300,350C300,352.5 300.2,355.1 300.8,357.5C301.4,359.9 302.6,362.4 303.3,364.2C304,366 305.3,367.1 305,368.3C304.7,369.6 303.4,370.9 301.7,371.7C300,372.5 297.2,372.6 295,373.3C292.8,374 290.5,374.8 288.3,375.8C286.1,376.8 283.5,377.9 281.7,379.2C279.9,380.4 278.5,381.8 277.5,383.3C276.5,384.8 275.8,386.6 275.8,388.3C275.8,390 276.5,391.8 277.5,393.3C278.5,394.8 280.2,396.2 281.7,397.5C283.2,398.8 285.3,399.4 286.7,400.8C288.1,402.2 289.3,404 290,405.8C290.7,407.6 290.9,409.9 290.8,411.7C290.7,413.5 290.2,415.2 289.2,416.7C288.2,418.2 286.5,419.8 285,420.8C283.5,421.8 281.4,421.8 280,422.5C278.6,423.2 277.4,423.9 276.7,425C276,426.1 276.1,421.7 275.8,429.2C275.5,436.7 237.6,463.2 275,470C312.4,476.8 462.5,499.2 500,470C537.5,440.8 520,324.2 500,295C480,265.8 400.8,294.2 380,295Z" fill="#FF9900"/>
<path d="M138.3,247.7C139.2,247.7 140.4,248.1 141,248.7C141.6,249.3 142,250.4 142,251.3C142,252.2 141.6,253.4 141,254C140.4,254.6 139.2,255 138.3,255C137.4,255 136.3,254.6 135.7,254C135.1,253.4 134.7,252.2 134.7,251.3C134.7,250.4 135.1,249.3 135.7,248.7C136.3,248.1 137.4,247.7 138.3,247.7Z" fill="#FFD92E"/>
<path d="M198,133.3C198.5,138.1 200.1,139.2 200.8,141.7C201.6,144.2 202.2,145.8 202.5,148.3C202.8,150.8 202.8,154.3 202.5,156.7C202.2,159 201.7,160.6 200.8,162.5C199.9,164.4 198,167.2 197,168C196,168.8 195.4,167.7 194.7,167C193.9,166.3 193.2,164.8 192.3,163.7C191.5,162.5 190.9,160.9 189.7,160C188.4,159.1 186.7,158.1 185,158C183.3,157.9 181,158.6 179.7,159.7C178.3,160.7 177.5,162.4 177,164.2C176.5,165.9 176.3,168.2 176.7,170C177,171.8 178.5,173.3 179.2,175C179.9,176.7 180.8,178.3 180.8,180C180.8,181.7 180.1,183.8 179.2,185C178.2,186.2 176.4,186.5 175,187.5C173.6,188.5 171.9,189.4 170.8,190.8C169.7,192.2 169.3,194 168.3,195.8C167.4,197.6 166.1,199.9 165,201.7C163.9,203.5 162.5,205 161.7,206.7C160.8,208.3 160.4,210 160,211.7C159.6,213.3 159.4,215.1 159.2,216.7C158.9,218.2 158.4,220.8 158.7,220.8C158.9,220.8 160.6,216.2 160.8,216.7C161.1,217.1 160.7,221.4 160,223.3C159.3,225.3 158.1,226.9 156.7,228.3C155.3,229.7 152.8,230.3 151.7,231.7C150.6,233.1 150.8,235.3 150,236.7C149.2,238.1 148.3,239.2 146.7,240C145,240.8 141.9,241.1 140,241.7C138.1,242.2 136.7,242.6 135,243.3C133.3,244 131.1,244.6 130,245.8C128.9,247.1 128.4,249.1 128.3,250.8C128.2,252.5 128.4,254.2 129.2,255.8C130,257.4 131.8,258.8 133.3,260.3C134.9,261.9 137.2,263.7 138.7,265C140.1,266.3 141.3,267 142,268.3C142.7,269.7 143,271.9 142.7,273C142.3,274.1 141.1,275.1 140,275C138.9,274.9 137.6,273.4 136,272.3C134.4,271.2 132.4,269.4 130.7,268.3C128.9,267.2 127.1,266.6 125.3,265.7C123.6,264.8 121.1,264.2 120,263C118.9,261.8 119.4,259.8 118.7,258.3C117.9,256.9 116.3,255.6 115.3,254.2C114.4,252.8 113.6,251.5 113,250C112.4,248.5 114.4,247.2 111.7,245C108.9,242.8 104.7,243.6 96.7,236.7C88.6,229.7 63.9,223.9 63.3,203.3C62.8,182.8 70.9,128.3 93.3,113.3C115.8,98.3 180.6,110 198,113.3C215.4,116.7 197.5,128.6 198,133.3Z" fill="#FF3300"/>
<path d="M188.3,145C189.7,141.8 194.7,144.7 196.7,145.5C198.6,146.3 199,148.1 200,150C201,151.9 202.1,154.4 202.5,156.7C202.9,158.9 202.9,161.5 202.5,163.3C202.1,165.2 201,166.7 200,167.7C199,168.7 197.8,169.3 196.7,169.3C195.6,169.3 194.7,168.4 193.3,167.7C191.9,166.9 189.2,168.8 188.3,165C187.5,161.2 186.9,148.2 188.3,145Z" fill="#FF3300"/>
<path d="M261.7,140C248.2,141.1 262.1,143.9 262.5,146.7C262.9,149.4 263.5,153.3 264.2,156.7C264.9,160 265.8,163.3 266.7,166.7C267.5,170 268.5,173.6 269.2,176.7C269.9,179.7 270.6,182.8 270.8,185C271,187.2 270.2,188.3 270.3,190C270.5,191.7 270.6,193.8 271.7,195C272.7,196.2 274.7,196.9 276.7,197.5C278.6,198.1 281.2,198.1 283.3,198.3C285.4,198.6 287.5,198.8 289.2,199.2C290.8,199.6 291.9,200 293.3,200.8C294.7,201.7 296.1,203.1 297.5,204.2C298.9,205.3 300.4,206.4 301.7,207.5C302.9,208.6 303.9,209.9 305,210.8C306.1,211.8 306.9,212.8 308.3,213.3C309.7,213.9 307.5,214.2 313.3,214.2C319.2,214.2 338.3,225.7 343.3,213.3C348.3,201 356.9,152.2 343.3,140C329.7,127.8 275.1,138.9 261.7,140Z" fill="#FF3300"/>
<path d="M292.5,212C291.3,212.1 290.4,213.4 289.7,214.7C289,216 288.7,218.8 288.5,220C288.3,221.2 287.9,220.3 288.3,221.7C288.7,223.1 290.2,226.1 290.8,228.3C291.4,230.5 291.7,233.1 291.7,235C291.7,236.9 291.2,238.5 290.8,240C290.4,241.5 289.8,242.5 289.2,244.2C288.6,245.9 288.1,248.2 287.5,250C286.9,251.8 286.4,253.5 285.8,255C285.2,256.5 286,258.2 284.2,259.2C282.4,260.2 277.5,260.2 275,260.8C272.5,261.4 270.6,261.5 269.2,262.5C267.8,263.5 267.4,265 266.7,266.7C266,268.4 265.7,270.6 265,272.5C264.3,274.4 263.5,276.5 262.5,278.3C261.5,280.1 260.3,281.6 259.2,283.3C258.1,285 256.6,286.6 255.8,288.3C255,290 254.3,291.9 254.2,293.3C254.1,294.7 254.3,295.9 255,296.7C255.7,297.5 257.1,298.6 258.3,298.3C259.6,298 261.1,296.2 262.5,295C263.9,293.8 265.2,292.5 266.7,290.8C268.2,289.1 270,286.9 271.7,285C273.4,283.1 275,281 276.7,279.2C278.4,277.4 280,275.3 281.7,274.2C283.4,273.1 285,272.6 286.7,272.5C288.4,272.4 289.8,273.5 291.7,273.3C293.6,273.1 295.8,271.6 298.3,271.3C300.8,271 304.3,271.8 306.7,271.7C309.1,271.6 310.7,271.4 312.5,270.8C314.3,270.2 316.2,269.6 317.5,268.3C318.8,267.1 319.7,265.2 320,263.3C320.3,261.4 319.6,258.9 319.2,256.7C318.8,254.5 318.1,251.5 317.5,250C316.9,248.5 316.8,247.2 315.8,247.5C314.8,247.8 313.1,250.7 311.7,251.7C310.3,252.7 308.9,253.2 307.5,253.3C306.1,253.4 304.6,253.1 303.3,252.5C302.1,251.9 300.8,250.5 300,249.5C299.2,248.5 298.9,247.9 298.3,246.7C297.8,245.5 296.5,243.9 296.7,242.5C296.9,241.1 298.3,239.6 299.5,238.5C300.7,237.4 302.8,236.9 304,236C305.2,235.1 306.2,234.1 306.5,233C306.8,231.9 306.2,230.6 305.5,229.5C304.8,228.4 303.5,228.1 302.5,226.7C301.5,225.2 300.6,222.9 299.7,220.8C298.8,218.7 298.2,215.5 297,214C295.8,212.5 293.7,211.9 292.5,212Z" fill="#FF3300"/>
<path d="M443.3,318C433.9,319 443.4,322.3 443.3,324.2C443.2,326.1 443.6,327.8 443,329.2C442.4,330.6 441.3,331.8 440,332.5C438.7,333.2 436.7,333.3 435,333.7C433.3,334.1 431.5,334.8 430,335C428.5,335.2 427.1,335 425.8,334.7C424.6,334.4 423.5,333 422.5,333C421.5,333 420.3,333.8 420,334.7C419.7,335.6 420.5,337.3 420.8,338.3C421.1,339.3 422.2,340.2 421.7,340.8C421.1,341.4 419.2,341.5 417.5,341.7C415.8,341.9 413.5,341.6 411.7,342.2C409.9,342.8 407.9,343.6 406.7,345C405.4,346.4 405,348.9 404.2,350.8C403.4,352.8 402.7,355 401.7,356.7C400.7,358.4 399.7,360.2 398.3,360.8C396.9,361.4 395,360.4 393.3,360C391.6,359.6 390,358.8 388.3,358.7C386.6,358.6 384.8,359.1 383.3,359.7C381.8,360.2 380.4,361 379.2,362C377.9,363 376.6,364.3 375.8,365.8C375,367.3 374.6,369.3 374.2,370.8C373.8,372.3 374,374.6 373.3,375C372.6,375.4 371.4,373.7 370,373.3C368.6,372.9 366.4,373.1 365,372.5C363.6,371.9 362.9,371 361.7,370C360.4,369 358.9,367.2 357.5,366.7C356.1,366.1 354.8,366.4 353.3,366.7C351.8,367 350,367.9 348.3,368.3C346.6,368.7 345,369.1 343.3,369.2C341.6,369.3 340,369.5 338.3,369.2C336.6,368.9 334.8,367.9 333.3,367.5C331.8,367.1 330.2,366.4 329.2,366.7C328.2,367 327.4,368.2 327.5,369.2C327.6,370.2 328.9,371.5 330,372.5C331.1,373.5 333.1,374 334.2,375C335.3,376 336.1,377.1 336.7,378.3C337.2,379.6 337.1,381.4 337.5,382.5C337.9,383.6 338.1,384.4 339.2,385C340.3,385.6 342.5,385.5 344.2,385.8C345.9,386.1 347.7,386.3 349.2,386.7C350.7,387.1 351.9,387.6 353.3,388.3C354.7,389 356.4,389.7 357.5,390.8C358.6,391.9 359.6,393.5 360,395C360.4,396.5 360.3,398.3 360,400C359.7,401.7 359,403.3 358.3,405C357.6,406.7 356.4,407.8 355.8,410C355.2,412.2 331,414.7 355,418C379,421.3 475.8,446.7 500,430C524.2,413.3 509.4,336.7 500,318C490.6,299.3 452.8,317 443.3,318Z" fill="#FF3300"/>
<path d="M296.7,436.7C297.4,435 298.9,436 300,435C301.1,434 302.3,432.5 303.3,430.8C304.3,429.1 305.7,427.1 305.8,425C305.9,422.9 304.8,420.5 304.2,418.3C303.6,416.1 302.8,413.9 302.5,411.7C302.2,409.5 302.1,406.9 302.5,405C302.9,403.1 303.8,401.2 305,400C306.2,398.8 308.3,397.9 310,397.5C311.7,397.1 313.7,397 315,397.5C316.3,398 317.2,399.4 318,400.5C318.8,401.6 319.1,403.2 320,404.2C320.9,405.2 322.1,405.6 323.3,406.7C324.6,407.8 326.1,409.4 327.5,410.8C328.9,412.2 330.2,414 331.7,415C333.2,416 335,416.3 336.7,416.7C338.4,417.1 340,416.8 341.7,417.5C343.4,418.2 346.1,416.4 347,421C347.9,425.6 355.5,441 347,445C338.5,449 304.4,446.4 296,445C287.6,443.6 296,438.4 296.7,436.7Z" fill="#FF3300"/>
<path d="M146.7,371.7C148.1,370.7 149.8,370.5 150.8,370.8C151.9,371.1 152.6,371.8 153,373.3C153.4,374.8 153.3,377.8 153.3,380C153.3,382.2 153,384.6 153,386.7C153,388.8 153,390.6 153.3,392.5C153.6,394.4 154.4,396.2 154.7,398.3C155,400.4 154.7,402.9 155,405C155.3,407.1 155.9,409.1 156.7,410.8C157.5,412.5 158.9,413.8 160,415C161.1,416.2 162.4,417.2 163.3,418.3C164.2,419.4 164.9,420.1 165.3,421.7C165.8,423.3 173.6,426.9 166,428C158.4,429.1 127.7,433.3 120,428C112.3,422.7 118.9,401.4 120,396C121.1,390.6 124.8,396.2 126.7,395.8C128.6,395.4 129.6,394.3 131.3,393.3C133.1,392.3 135.7,391.7 137.2,390C138.7,388.3 139.7,385.5 140.5,383.3C141.3,381.1 141.2,378.6 142.2,376.7C143.2,374.8 145.3,372.7 146.7,371.7Z" fill="#FF3300"/>
<path d="M94,296C102,296.7 96.8,298.2 98,300C99.2,301.8 99.9,304.9 101.3,306.7C102.7,308.5 104.6,309.4 106.3,310.8C108,312.2 109.9,313.5 111.3,315C112.7,316.5 114,318.1 114.7,320C115.4,321.9 115.2,324.5 115.5,326.7C115.8,328.9 115.6,331.2 116.3,333.3C117,335.4 118.7,337.4 119.7,339.2C120.7,341 121.7,342.4 122.2,344.2C122.7,346 122.9,348.2 122.7,350C122.5,351.8 122,353.6 121.3,355C120.6,356.4 119.8,357.2 118.8,358.3C117.8,359.4 116.2,360.4 115.5,361.7C114.8,363 117.3,365.3 114.7,366C112.1,366.7 110.8,370.3 100,366C89.2,361.7 58.3,351.7 50,340C41.7,328.3 42.7,303.3 50,296C57.3,288.7 86,295.3 94,296Z" fill="#FF3300"/>
<path d="M456.7,326C453.2,327.8 458.2,329.4 459.2,330.8C460.2,332.2 461.5,333.1 462.5,334.2C463.5,335.3 464.1,336.4 465,337.5C465.9,338.6 464.7,342.2 468,341C471.3,339.8 483,333.5 485,330C487,326.5 484.7,320.7 480,320C475.3,319.3 460.2,324.2 456.7,326Z" fill="#FF9900"/>
<path d="M160.8,145C163.3,144.4 169.6,144.7 171.3,146.3C173,148 171.2,152.2 171,155C170.8,157.8 170.4,160.8 170.2,163.3C169.9,165.8 169.9,168.2 169.5,170C169.1,171.8 168.5,172.9 167.7,174.2C166.8,175.4 165.6,176.8 164.3,177.5C163.1,178.2 161.2,178.6 160,178.5C158.8,178.4 158.2,177.5 157.2,176.7C156.1,175.9 154.9,175.9 153.7,173.7C152.5,171.4 149.5,167.3 150,163.3C150.5,159.4 154.9,153.1 156.7,150C158.5,146.9 158.4,145.6 160.8,145Z" fill="#CC0000"/>
<path d="M135,193.3C138.1,193.1 143.5,194 145.3,195C147.2,196 146.4,197.6 146.2,199.2C146,200.7 144.9,202.6 144.2,204.2C143.4,205.7 142.2,206.8 141.7,208.3C141.1,209.9 141.7,211.9 140.8,213.3C140,214.7 138.5,215.7 136.7,216.7C134.9,217.6 132.4,218.5 130,219.2C127.6,219.8 124.7,220.4 122.5,220.5C120.3,220.6 118.2,221.8 116.7,220C115.1,218.2 111.7,213.9 113.3,210C115,206.1 123.1,199.4 126.7,196.7C130.3,193.9 131.9,193.6 135,193.3Z" fill="#CC0000"/>
<path d="M272,149.5C272.9,149.4 274.1,150.3 274.7,151.3C275.2,152.4 275.4,154.6 275.3,155.8C275.2,157.1 274.7,158.1 274,158.7C273.3,159.2 272.1,159.4 271.3,159C270.6,158.6 269.7,157.5 269.3,156.3C269,155.2 268.7,153.1 269.2,152C269.6,150.9 271.1,149.6 272,149.5Z" fill="#CC0000"/>
<path d="M276.7,166.7C276.9,165 277.9,163.6 279.2,163.3C280.4,163.1 282.4,163.8 284.2,165C286,166.2 288.2,168.6 290,170.8C291.8,173.1 293.8,176 295,178.3C296.2,180.7 297.4,183.2 297.5,185C297.6,186.8 296.9,188.3 295.8,189.2C294.7,190 292.6,190.4 290.8,190C289,189.6 286.8,188.3 285,186.7C283.2,185 281.2,182.2 280,180C278.8,177.8 278.1,175.6 277.5,173.3C276.9,171.1 276.4,168.3 276.7,166.7Z" fill="#CC0000"/>
<path d="M90,303C97.5,303.3 93.7,303.8 95,305C96.3,306.2 96.7,308.3 98,310C99.3,311.7 101.5,313.3 103,315C104.5,316.7 106.1,318.1 107.2,320C108.3,321.9 109.2,324.5 109.7,326.7C110.2,328.9 110.5,331.1 110.5,333.3C110.5,335.5 109.8,337.8 109.7,340C109.6,342.2 109.9,344.5 109.7,346.7C109.5,348.9 109.2,351.2 108.8,353.3C108.4,355.4 108.7,357.9 107.2,359C105.7,360.1 109.5,363.2 100,360C90.5,356.8 58.3,349.5 50,340C41.7,330.5 43.3,309.2 50,303C56.7,296.8 82.5,302.7 90,303Z" fill="#CC0000"/>
<path d="M193.3,183.3C193.6,181.9 195,179.9 196.7,178.7C198.3,177.5 200.8,176.8 203.3,176.2C205.8,175.6 209.4,175.1 211.7,175.2C213.9,175.2 215.7,175.9 216.7,176.7C217.6,177.5 218.1,179 217.5,180C216.9,181 215.1,181.8 213.3,182.5C211.5,183.2 208.9,183.5 206.7,184.2C204.4,184.9 201.9,186.1 200,186.7C198.1,187.2 196.1,188.1 195,187.5C193.9,186.9 193.1,184.8 193.3,183.3Z" fill="#FFFFC8"/>
<path d="M196.7,215C197.6,213.6 199.7,211.8 201.7,211.3C203.6,210.8 206.7,211.1 208.3,212C210,212.9 211.4,214.8 211.7,216.7C211.9,218.6 211.2,221.7 210,223.3C208.8,225 206.1,226.4 204.2,226.7C202.2,226.9 199.7,226.1 198.3,225C196.9,223.9 196.1,221.7 195.8,220C195.6,218.3 195.7,216.4 196.7,215Z" fill="#FFFFC8"/>
<path d="M182.8,203C183.3,202.4 184.8,202.7 185.3,203.3C185.9,203.9 186.2,205.8 186,206.7C185.8,207.6 184.9,208.7 184.3,208.7C183.7,208.7 182.6,207.6 182.3,206.7C182.1,205.7 182.3,203.6 182.8,203Z" fill="#FFFFC8"/>
<path d="M167.5,237.5C168.1,236 170.7,233.8 172.5,232.5C174.3,231.2 176.2,230.3 178.3,230C180.4,229.7 182.8,230.1 185,230.8C187.2,231.5 190,232.9 191.7,234.2C193.3,235.4 193.6,237.2 195,238.3C196.4,239.4 198.5,239.9 200,240.8C201.5,241.8 203.2,242.6 204.2,244.2C205.1,245.7 205.8,248.1 205.8,250C205.8,251.9 205.4,254.3 204.2,255.8C202.9,257.4 200.4,258.8 198.3,259.2C196.2,259.6 193.3,259.2 191.7,258.3C190,257.5 189.4,255.8 188.3,254.2C187.2,252.5 186.5,249.9 185,248.3C183.5,246.8 181.1,245.7 179.2,245C177.2,244.3 175,244.7 173.3,244.2C171.7,243.6 170.1,242.8 169.2,241.7C168.2,240.6 166.9,239 167.5,237.5Z" fill="#FFFFC8"/>
<path d="M236.3,138C239.4,135.7 251.1,135.2 254.2,138C257.3,140.8 254.5,150.8 254.7,155C254.9,159.2 255.1,160.2 255.3,163.3C255.5,166.4 255.7,170 255.8,173.3C255.9,176.6 255.9,180.2 255.8,183.3C255.7,186.4 255.9,189.5 255.3,191.7C254.8,193.9 253.4,194.8 252.5,196.7C251.6,198.6 250.6,201.1 250,203.3C249.4,205.5 248.8,208.1 249.2,210C249.6,211.9 251.8,213.1 252.5,215C253.2,216.9 252.9,219.5 253.3,221.7C253.7,223.9 254.6,225.8 255,228.3C255.4,230.8 255.7,233.9 255.8,236.7C255.9,239.5 255.7,242.2 255.8,245C256,247.8 256.4,250.5 256.7,253.3C257,256.1 257.5,258.9 257.5,261.7C257.5,264.5 257.1,267.5 256.7,270C256.3,272.5 255.7,274.8 255,276.7C254.3,278.6 253.3,280 252.5,281.7C251.7,283.4 251.2,285 250,286.7C248.8,288.4 246.7,290 245,291.7C243.3,293.4 241.4,295.1 240,296.7C238.6,298.2 238.1,299.9 236.7,301C235.3,302.1 233.6,303.1 231.7,303.3C229.8,303.6 226.9,302.6 225,302.5C223.1,302.4 221,301.9 220,302.5C219,303.1 219.2,304.3 219.2,305.8C219.2,307.3 220.2,309.8 220,311.7C219.8,313.6 219.1,315.6 218.3,317.5C217.5,319.4 216.4,321.6 215,323.3C213.6,325 211.7,326.5 210,327.5C208.3,328.5 206.5,329.1 205,329.2C203.5,329.3 201.8,329.3 200.8,328.3C199.8,327.3 199.3,325.2 199.2,323.3C199.1,321.4 199.6,318.6 200,316.7C200.4,314.8 201.7,313.3 201.7,311.7C201.7,310.1 200.9,308.3 200,307C199.1,305.7 197,305 196,304C195,303 193.9,301.9 194.2,300.8C194.4,299.7 196,298.5 197.5,297.5C199,296.5 201.2,296 203.3,295C205.4,294 207.9,293.2 210,291.7C212.1,290.2 214.3,287.8 215.8,285.8C217.3,283.9 218.3,281.6 219.2,280C220.1,278.4 220.2,277.5 221,276.5C221.8,275.5 222.8,274.7 224,274C225.2,273.3 226.8,273 228.3,272.5C229.9,272 231.8,271.8 233.3,270.8C234.8,269.8 236.5,268.8 237.5,266.7C238.5,264.6 239.3,260.9 239.2,258.3C239.1,255.7 237.9,252.7 236.7,250.8C235.4,248.9 233.3,247.4 231.7,246.7C230.1,246 228.4,246.8 227,246.5C225.6,246.2 224,245.9 223,245C222,244.1 221.1,242.3 220.8,241C220.6,239.7 221.1,238.3 221.5,237C221.9,235.7 222.7,234.3 223.3,233C223.9,231.7 224.4,230.6 225,229C225.6,227.4 226,225.6 226.7,223.3C227.4,221 228.7,217.8 229.2,215C229.7,212.2 229.4,209.2 229.7,206.7C230,204.2 230.1,201.7 230.8,200C231.5,198.3 232.7,198.1 233.7,196.7C234.7,195.3 236.1,193.6 236.7,191.7C237.3,189.8 237.5,187.5 237.5,185C237.5,182.5 237.1,179.5 236.7,176.7C236.3,173.9 235.6,171.1 235.3,168.3C235,165.5 234.9,162.8 235,160C235.1,157.2 235.6,155.4 235.8,151.7C236,148 233.2,140.3 236.3,138Z" fill="#FFFFC8"/>
<path d="M226.7,335C227.1,333.3 228.6,330.5 230,328.3C231.4,326.1 233.1,323.6 235,321.7C236.9,319.8 239.2,317.9 241.7,316.7C244.2,315.4 247.2,314.8 250,314.2C252.8,313.6 256.4,312.9 258.3,313.3C260.2,313.7 261.1,315 261.7,316.7C262.3,318.4 262,321.1 261.7,323.3C261.4,325.5 260.8,327.9 260,330C259.2,332.1 257.5,334.3 256.7,335.8C255.9,337.3 254.2,338.5 255,339.2C255.8,339.9 259.2,339.9 261.7,340C264.2,340.1 267.2,339.7 270,339.7C272.8,339.7 276.2,339.5 278.3,340C280.4,340.5 281.5,341.2 282.5,342.5C283.5,343.8 284.1,345.7 284.2,347.5C284.3,349.3 284,351.6 283.3,353.3C282.6,355 281.4,356.5 280,357.5C278.6,358.5 276.9,358.6 275,359.2C273.1,359.8 270.5,360.1 268.3,360.8C266.1,361.5 263.8,362.5 261.7,363.3C259.6,364.1 257.8,365.1 255.8,365.8C253.9,366.5 251.9,367.4 250,367.5C248.1,367.6 245.9,366.6 244.2,366.7C242.5,366.8 241.1,367.2 240,368.3C238.9,369.4 237.5,371.4 237.5,373.3C237.5,375.2 239.3,377.8 240,380C240.7,382.2 241.4,384.7 241.7,386.7C242,388.7 242.3,390.5 242,392C241.7,393.5 241.2,395 240,395.8C238.8,396.6 236.9,396.7 235,396.7C233.1,396.7 230.2,396.1 228.3,395.8C226.4,395.5 225.2,394.9 223.3,395C221.4,395.1 218.5,395.7 216.7,396.7C214.9,397.7 213.1,399.4 212.5,400.8C211.9,402.2 212.3,403.9 213.3,405C214.3,406.1 217.3,406.7 218.3,407.5C219.3,408.3 218.6,408.5 219.2,410C219.8,411.5 221.1,414.2 221.7,416.7C222.2,419.2 222.7,422.5 222.5,425C222.3,427.5 220.7,430 220.8,431.7C220.9,433.4 222.1,434.4 223.3,435C224.5,435.6 227.6,434.7 228,435C228.4,435.3 227.1,435.9 225.8,436.7C224.5,437.5 222.1,439.6 220,440C217.9,440.4 215.2,439.9 213.3,439.2C211.4,438.5 209.4,437.2 208.3,435.8C207.2,434.4 206.4,432.3 206.7,430.8C207,429.3 208.6,427.9 210,426.7C211.4,425.4 214,425 215,423.3C216,421.6 215.9,418.9 215.8,416.7C215.7,414.5 214.9,411.9 214.2,410C213.5,408.1 212.7,406.4 211.7,405C210.7,403.6 209.6,402.4 208.3,401.7C207.1,401 205.3,401.6 204.2,400.8C203.1,400 202.1,398.5 201.7,396.7C201.3,394.9 201.3,392.2 201.7,390C202.1,387.8 203.2,385.5 204.2,383.3C205.2,381.1 206.2,378.9 207.5,376.7C208.8,374.5 210.4,371.9 211.7,370C212.9,368.1 213.9,366.7 215,365C216.1,363.3 217.3,361.7 218.3,360C219.3,358.3 220,356.7 220.8,355C221.6,353.3 222.5,351.7 223.3,350C224.1,348.3 225.1,346.9 225.8,345C226.5,343.1 227.3,340 227.5,338.3C227.7,336.6 226.3,336.7 226.7,335Z" fill="#FFFFC8"/>
<path d="M284.2,296.7C283.9,295.3 285.4,293.2 286.7,291.7C287.9,290.1 289.7,288.6 291.7,287.5C293.6,286.4 296.1,285.6 298.3,285C300.6,284.4 302.9,284 305,284.2C307.1,284.3 309.7,284.9 310.8,285.8C311.9,286.8 312.1,288.8 311.7,290C311.2,291.2 310,292.2 308.3,293.3C306.7,294.4 303.9,295.7 301.7,296.7C299.4,297.6 297.2,298.6 295,299.2C292.8,299.7 290.1,300.4 288.3,300C286.5,299.6 284.4,298.1 284.2,296.7Z" fill="#FFFFC8"/>
<path d="M251.3,399.2C252,398.3 254.2,398 255,398.3C255.8,398.7 256.1,400.3 256,401.3C255.9,402.3 255.2,403.9 254.3,404.3C253.5,404.7 251.5,404.5 251,403.7C250.5,402.8 250.7,400.1 251.3,399.2Z" fill="#FFFFC8"/>
<path d="M247.5,150.8C248.5,150.7 250.8,150.6 251.7,151.7C252.5,152.8 252.6,155.4 252.7,157.5C252.8,159.6 252.7,162.3 252.3,164.2C251.9,166 251.1,167.5 250.3,168.7C249.6,169.8 248.8,170.9 248,171C247.2,171.1 246.2,170.3 245.5,169.2C244.8,168 243.9,166.2 243.7,164.2C243.4,162.1 243.8,158.6 244.2,156.7C244.5,154.8 245.1,153.6 245.7,152.7C246.2,151.7 246.5,151 247.5,150.8Z" fill="#74C6F2"/>
<path d="M237.5,215.8C238.2,214.7 239.6,214.3 240.8,214.2C242,214.1 243.8,214.5 244.7,215.3C245.5,216.2 246,217.8 246,219.2C246,220.5 245.4,222.3 244.7,223.3C243.9,224.4 242.7,225.2 241.7,225.3C240.6,225.5 239.2,224.9 238.3,224.2C237.5,223.4 236.8,222.2 236.7,220.8C236.5,219.4 236.8,216.9 237.5,215.8Z" fill="#74C6F2"/>
<path d="M196.3,245.2C197.2,245.1 198.5,245.6 199.2,246.3C199.8,247 200.3,248.3 200.3,249.3C200.3,250.4 199.8,251.9 199.2,252.7C198.5,253.5 197.2,254.1 196.3,254.2C195.4,254.2 194.3,253.8 193.7,253C193,252.2 192.5,250.7 192.5,249.7C192.5,248.6 193,247.4 193.7,246.7C194.3,245.9 195.4,245.2 196.3,245.2Z" fill="#74C6F2"/>
<path d="M231.7,240C232,238.6 232.8,236.8 234.2,235.8C235.6,234.9 238.2,234.3 240,234.2C241.8,234 243.8,234.2 245,235C246.2,235.8 247.2,237.6 247.5,239.2C247.8,240.7 246.5,242.6 246.7,244.2C246.8,245.7 247.5,247.2 248.3,248.3C249.2,249.4 250.9,249.4 251.7,250.8C252.4,252.2 252.9,254.3 253,256.7C253.1,259 253,262.5 252.5,265C252,267.5 251,269.7 250,271.7C249,273.6 248.1,275.1 246.7,276.7C245.3,278.2 243.1,279.4 241.7,280.8C240.3,282.2 239.3,283.6 238.3,285C237.4,286.4 236.9,288.2 235.8,289.2C234.7,290.1 232.9,291 231.7,290.8C230.5,290.7 229.1,289.4 228.7,288.3C228.2,287.2 228.5,285.4 229.2,284.2C229.8,282.9 231.2,281.9 232.5,280.8C233.8,279.7 235.3,278.8 236.7,277.5C238.1,276.2 239.6,274.9 240.8,273.3C242.1,271.8 243.3,270.1 244.2,268.3C245,266.5 245.6,264.4 245.8,262.5C246.1,260.6 246.1,258.5 245.8,256.7C245.6,254.9 245,253.1 244.2,251.7C243.3,250.3 242.4,249.2 240.8,248.3C239.3,247.5 236.5,247.4 235,246.7C233.5,246 232.6,245.3 232,244.2C231.4,243.1 231.3,241.4 231.7,240Z" fill="#74C6F2"/>
<path d="M231.7,340C231.9,338.2 232.4,335.6 233.3,333.3C234.3,331.1 236,328.3 237.5,326.7C239,325 240.8,323.9 242.5,323.3C244.2,322.8 246.5,322.6 247.5,323.3C248.5,324 248.6,326.1 248.3,327.5C248.1,328.9 246.7,330.3 245.8,331.7C245,333.1 243.9,334.3 243.3,335.8C242.8,337.4 242.2,339.3 242.5,340.8C242.8,342.4 243.8,343.9 245,345C246.2,346.1 248.1,347.1 250,347.5C251.9,347.9 254.4,347.4 256.7,347.5C258.9,347.6 261.4,347.9 263.3,348.3C265.3,348.8 267.2,349.3 268.3,350C269.4,350.7 270.1,351.5 270,352.5C269.9,353.5 268.8,354.7 267.5,355.8C266.2,356.9 264.3,358.1 262.5,359.2C260.7,360.3 258.5,362.2 256.7,362.5C254.9,362.8 253.3,361.5 251.7,360.8C250,360.1 248.3,359 246.7,358.3C245,357.6 243.3,357.5 241.7,356.7C240,355.8 238.1,354.7 236.7,353.3C235.3,351.9 234.2,349.9 233.3,348.3C232.5,346.8 231.9,345.6 231.7,344.2C231.4,342.8 231.4,341.8 231.7,340Z" fill="#74C6F2"/>
<path d="M248.3,352.5C248.9,351.9 250.7,351.5 251.7,351.7C252.6,351.9 253.7,352.9 254,353.7C254.3,354.4 253.9,355.8 253.3,356.3C252.7,356.9 251.2,357.2 250.3,357C249.4,356.8 248.3,356.1 248,355.3C247.7,354.6 247.7,353.1 248.3,352.5Z" fill="#12A8FF"/>
<path d="M214.7,381.3C215.3,380.4 217.2,380.1 218.3,380.3C219.4,380.6 220.8,381.9 221.2,383C221.6,384.1 221.4,386.1 220.8,387C220.2,387.9 218.6,388.5 217.5,388.3C216.4,388.2 214.8,387.3 214.3,386.2C213.9,385 214,382.3 214.7,381.3Z" fill="#74C6F2"/>
<path d="M216,382.7C216.4,382.2 217.7,381.8 218.3,382C219,382.2 219.7,383.1 219.8,383.8C220,384.5 219.7,385.7 219.3,386.2C218.9,386.6 217.9,386.9 217.3,386.7C216.7,386.5 215.9,385.7 215.7,385C215.4,384.3 215.6,383.2 216,382.7Z" fill="#12A8FF"/>
</g>
<g clip-path="url(#ethb)" fill="none" stroke="#2a1c08" stroke-width="0.42" stroke-linejoin="round" stroke-opacity="0.9">
<ellipse cx="224.3" cy="296.2" rx="5.6" ry="5.2"/>
<text x="224.60000000000002" y="298.5" font-size="6" font-style="italic" font-weight="bold" fill="#111" stroke="none" text-anchor="middle">AA</text>
<path d="M374.4,300.6 371.2,306.9 360.2,310.1 349.1,311.7 347.5,306.9 342.7,310.1 341.2,314.8 336.4,319.6 333.2,321.2"/>
<path d="M429.2,316.7 425,323.3 420,330 415,334.7 406.7,334.2 397.5,331.7"/>
<path d="M397.5,331.7 396.7,338.3 393.3,343.3 395.8,347.5 394.2,353.3 393.3,360 394.2,365 400,368.3 406.7,371.7 415,373.3 421.7,376.7 428,381"/>
<path d="M397.5,331.7 388.7,335.4 379.2,338.6 371.2,337 364.9,340.2 363.3,346.5 361.7,354.4 360.2,360.7 363.3,365.5 371.2,371.8 374.4,375"/>
<path d="M333.2,321.2 334.8,327.5 331.7,333.8 333.2,340.2 330.1,343.3 322.2,344.9 317.4,354.4 315.8,359.2 319,365.5 326.9,368.7 333.2,375 338,381.3 339.6,386.1 347.5,387.7 352.2,394 355.4,401.9 358.6,409.8 360.2,416.1"/>
<path d="M333.2,321.2 327,318.5 322.2,319.6 317.4,324.3 312.7,332.2 311.1,338.6 319,343.3 322.2,344.9"/>
<path d="M334.8,327.5 342.7,329.1 352.2,333.8 361.7,338.6 364.9,340.2"/>
<path d="M317.4,354.4 330.1,356 339.6,357.6 347.5,356 349.1,362.3 352.2,365.5 360.2,363.9 363.3,365.5"/>
<path d="M374.4,375 376,384.5 379.2,390.8 387.1,395.6 395,398.7 404.5,401.9 409.3,405.1"/>
<path d="M311.1,338.6 306,345 303.5,352 305.5,359 305,366 303,372 301.5,380 303,388 300.5,396 304,404 303,412 306,420 309,427 314,432"/>
<path d="M327,318.5 326,312 321,309 318.5,304 322,298 327,294.5 331,296 335,302 341.2,314.8"/>
<path d="M499.8,149.5 497.2,150.3 496.1,152 496.1,154.4 495.2,156.3 492.5,156.9 492.8,159.6 491.2,161 489.2,162.1 489.5,164.7 487.8,166.1 486.1,167.3 485.6,169.4 485.3,171.7 483.6,173 483.3,175.2 482.1,176.9 480.5,178.3 479.9,180.3 478.7,182 477.6,183.7 476.2,185.2"/>
<path d="M471.3,469.8 469,468.8 467.7,467.2 468.7,464.4 466.9,463.1 465.3,461.6 465,459.5 464.4,457.6 463.1,456 462.5,454.1 460.5,452.9 460.7,450.5 458.7,449.3 459.2,446.7 457.6,445.3 455.7,444.1 455.3,442 453.8,440.5"/>
<path d="M420.7,301.8 420.7,299.6 421.8,297.9 422.4,295.9 423.4,294.2 425.4,292.9 425.7,290.8 427.4,289.4 427.2,287 429.2,285.8 428.3,283.1 431.2,282.2 431.6,280.2 431.5,277.9 431.9,275.8 434,274.6 434.5,272.6 434.2,270.2 435.8,268.8 435.9,266.6 438.3,265.5 437.8,263 438.5,261.1 440.7,259.9 440.1,257.4 441.6,255.9 442.6,254.2 444.4,252.8 443.4,250 445.2,248.7 446.7,247.1 446.4,244.8 447.3,243 448.2,241.2 449.4,239.5 450.1,237.6 450.2,235.4 452.1,234.1 452.1,231.8 453.5,230.3 454.1,228.3 456,227 456.6,225.1 458.3,223.6 457.5,221 458.9,219.4 460.2,217.8 460.3,215.6 462.6,214.5 463.4,212.6 463.9,210.6 465.4,209.1 465.5,206.9 466.6,205.2 468.2,203.7 468.5,201.6 469.8,200 470.4,198.1 470.8,196 472.1,194.4 473.1,192.6 474,190.9 474.8,189 475.6,187.2 476.2,185.2"/>
<path d="M387,206 385.9,207.6 384.5,209.2 383.5,211 382.7,212.9 380.6,213.8 379.2,215.4 378.7,217.6 376.6,218.5 375.1,219.8 374.7,222.1 372,222.6 371.2,224.5 370.6,226.6 369.6,228.5 366.4,228.5 365.5,230.4 365.6,233 362.4,233.1 361.8,235.3 360.8,237.1 360,239 358.4,240.3 357.8,242.5 355.8,243.4 354.5,245 353.9,247.2 353.5,249.4 352,250.9 350.9,252.6 349.2,253.8 347.3,254.8 346.1,256.5 345.5,258.6 343.7,259.8 342.2,261.2 341.1,262.9 339.8,264.5 338.4,266 336.9,267.4"/>
<path d="M498.8,124.4 496.5,124.7 494.7,125.6 493.9,127.9 491.4,128 491,130.8 488.4,130.6 487.3,132.5 485.1,132.9 483.7,134.4 481.9,135.2 480.3,136.5 479,138.1 477.6,139.6 475.5,140.1 474.2,141.7 472.6,143 471.3,144.6 470.3,146.7 467.9,146.7 465.9,147.3 464.6,149 464,151.6 462.6,153.1 461,154.4 458.1,153.7 456.3,154.7 456,157.7 454.6,159.1 452.3,159.4 450.2,159.9 449.5,162.3 446.8,162 445.2,163.2 444.3,165.5 442.4,166.2 440.4,166.9 439.8,169.5 437.7,169.9 435.7,170.6 434.9,172.9 432,172.3 430.7,173.9 429,175.1 427.9,176.9 425.5,177.1 424.4,179 422.8,180.2 421.3,181.5 419.6,182.6 417,182.4 415.9,184.4 414,185.1 412.5,186.5 411.2,188.1 409.3,188.9 407.8,190.2 406.1,191.3 404.9,193.1 403.3,194.3 401,194.6 400,196.6 398.5,197.9 396.2,198.1 394.7,199.5 393.6,201.4 391.8,202.3 390.1,203.4 388.5,204.6 387,206"/>
<path d="M334.9,281.9 333.9,279.6 334.8,277.6 335.2,275.6 336.2,273.6 337.3,271.7 337.3,269.5 336.9,267.4"/>
<path d="M476.2,185.2 474.9,186.8 473.4,188.1 472.2,189.7 470.6,191 469.4,192.6 468.5,194.6 466.9,195.8 465.8,197.5 463.8,198.4 462.7,200.1 460.7,201 460,203.1 458.6,204.5 457.4,206.2 456.3,207.9 454,208.5 452.4,209.8 451.4,211.5 450.3,213.2 448.6,214.4 447.7,216.3 445.6,217.2 444.2,218.6 442.8,220.1 441.7,221.8 440.8,223.7 439.3,225 437.2,225.8 437,228.3 434.3,228.6 433.1,230.3 431.9,231.9 430.6,233.4 429.6,235.2 428.4,236.9 426.3,237.6 425.4,239.6 423.8,240.8 422.7,242.5 421.4,244.1 419.8,245.3 418.1,246.5 417.9,249 417,250.9 415.7,252.5 414,253.7 411.3,253.8 410.2,255.6 409.8,257.9 407.3,258.4 406.1,260 406.1,262.7 403.3,262.9 402.2,264.6 401.2,266.4 400.2,268.2 398.7,269.6 397.3,271 397,273.5 394.9,274.3 394.4,276.6 391.6,276.7 391.7,279.5 389.4,280.1 388.9,282.4 386.8,283.2 385.9,285.1 383.8,285.9 382.2,287.2 380.6,288.4"/>
<path d="M315.3,468 315.3,466 314.6,464 315,461.9 313.8,460 313.9,457.9 313.8,455.9 313.6,453.8 312.6,451.9 311.7,450 311.1,448 312.4,445.8 311.1,443.9 310.1,442"/>
<path d="M297,375.4 294.7,378.3 292.9,375.9 290.8,376.1"/>
<path d="M315.3,468 314,466.5 313.3,464.5 311.2,463.6 310.8,461.3 308.6,460.6 307.6,458.8 305.7,457.8 304.3,456.3 303.3,454.5 302.8,452.2 300.4,451.7 299.1,450.1 297.2,449.1 297.1,446.6 295.4,445.4 293.7,444.2 292.4,442.6 290.2,441.9 288.8,440.5 289.2,437.5 286.5,437.1 285.7,435.1 285.7,432.5 282.9,432.2 281.5,430.8 280.5,429 280,426.7 277.7,426.1 276.8,424.2 276,422.2 274.3,421.1 272.9,419.6 271.4,418.2 271.3,415.7 269.1,414.9 268.2,413 267.1,411.3 265.1,410.4 264,408.7 262.1,407.7 260.8,406.2 259.7,404.4"/>
<path d="M259.7,404.4 260.9,402.2 262.6,400.2 261.5,397.5"/>
<path d="M290.8,376.1 288.9,377 287.2,378 285.5,379.2 284,380.5 283.1,382.7 281.6,384 280.4,385.8 278.4,386.4 276,386.6 275,388.6 273.3,389.7 271.4,390.5 269.2,391 267.9,392.5 266.2,393.6 265.2,395.7 263.3,396.5 261.5,397.5"/>
<path d="M259.7,404.4 257.9,405.3 256.3,406.7 254.5,407.7 252.7,408.6 251.5,410.7 248.7,410 247.1,411.3 245,411.7 243.1,412.5 241.3,413.5 240.3,415.9 238.2,416.3 236.9,418.3 234.7,418.6"/>
<path d="M239.1,370.6 239.9,372.7 241.3,374.2 243.1,375.4 244.5,376.9 246,378.3 246.4,380.6 249.8,380.5 249.7,383.3 250.6,385.2 252.7,386.1 254.5,387.3 254.7,389.8 256.3,391.2 257.5,392.8 259,394.3 259.9,396.2 261.5,397.5"/>
<path d="M239.1,370.6 240.2,368.9 242.5,367.9 243,365.8 244.1,364.1 244.7,362.1 246,360.4 246.2,358.1 246.9,356.2 249.2,355.2 250.4,353.5 250.7,351.3 251.8,349.6"/>
<path d="M290.8,376.1 289.7,374.4 288.1,373.1 286.8,371.5 285.8,369.7 284.3,368.4 282.7,367 281.8,365.2 280.4,363.6 279.8,361.5 278.1,360.3 277.9,357.9 275.4,357.2 276,354.3 274.7,352.7 271.9,352.3 271.2,350.2 269,349.4 268.3,347.4 267.2,345.6"/>
<path d="M251.8,349.6 254,348.8 256.2,348.3 258,346.4 260.5,347 262.8,346.7 265.1,346.6 267.2,345.6"/>
<path d="M326.2,298 324.7,296 321.9,297.5 320.6,295 318,296.1 316.4,294.4 314.1,294.5 312,294.2 310.5,292.2 308.5,291.6 306.6,290.9"/>
<path d="M336.9,267.4 334.9,268 333.1,269.1 331,269.3 329,269.9"/>
<path d="M329,269.9 327.3,271.1 326.2,272.9 324.8,274.4 323,275.5 321.6,276.9 320.2,278.5 318.3,279.5 317.5,281.6 315.2,282.1 313,282.8 312.5,285.3 310.4,286.1 310.3,288.9 308.1,289.6 306.6,290.9"/>
<path d="M299.4,321.2 301.2,320.3 303.1,319.4 305,318.7 306.9,318.1 309.1,318 310.8,316.8 313.1,317.2 315,316.6 316.6,315.1 318.9,315.3 320.5,313.9"/>
<path d="M299.4,321.2 299,319.2 299,317.1 298.5,315.1 298.6,313 298.9,310.9 297.2,309.1 297.3,307 298,304.9 296.6,303 296.3,301 295,299.1 296.1,296.9 295.4,295 295.5,292.9"/>
<path d="M295.5,292.9 297.7,292.8 299.8,291.2 301.9,290.5 304.5,292.4 306.6,290.9"/>
<path d="M299,321.9 300.2,323.5 301.5,325.1 303,326.5 303.7,328.4 304.3,330.4 305.6,332 305.5,334.4 307.2,335.7 307.1,338"/>
<path d="M299,321.9 296.9,322.3 294.9,323.1 293,324.1 291.1,325.2 288.4,324.1 286.7,325.8 284.7,326.5 282.5,326.9 280.6,327.9 278.6,328.8 276.6,329.6 274.4,329.9"/>
<path d="M274.4,329.9 273.5,331.8 272.4,333.7 271.1,335.5 269.9,337.3 269.4,339.5 269.8,342 267.6,343.4 267.2,345.6"/>
<path d="M299.4,321.2 299,321.9"/>
<path d="M437.4,469.5 435.2,468.6 435.3,466.1 433.9,464.6 433.1,462.7 430.8,461.9 430,460 428.7,458.4 428.2,456.4 427.6,454.3 425,453.7 424.5,451.6 424,449.5 421.8,448.6 420.6,447 420.7,444.5 419.3,443 417.8,441.6"/>
<path d="M236.9,160.7 235.3,162.3 233.7,164 232.3,165.8 232.3,168.6 229.9,169.6"/>
<path d="M236.9,160.7 239,161.2 241.2,160.7 243.1,162.3 245.4,161.8 247.5,161.9 249.6,162.6 251.6,163.4 253.9,162.9 255.9,163.5 258,164.1 260.1,164.3"/>
<path d="M229.9,169.6 231.8,170.4 233.7,171.1 235.7,171.6 237.5,172.7 239.4,173.5 241.8,172.8 243.6,173.9 245.5,174.7 247.5,175.1 249.5,175.7 251.5,176.1 254,175.2 255.5,177.1 257.4,178 259.4,178.5"/>
<path d="M260.1,164.3 260,166.3 260.7,168.4 260.8,170.4 259,172.4 260.4,174.5 259.4,176.4 259.4,178.5"/>
<path d="M291.7,110.7 290.7,112.4 289.7,114.2 289,116.1 288,117.9 286.4,119.2 286.4,121.5 284.3,122.6 284.1,124.8 282.9,126.5 282,128.3 281,130 279.4,131.4 278.4,133.2 277.9,135.2 276.8,136.9 275.9,138.7 274.3,140 273.7,142 272.1,143.4 271.7,145.5 270.1,146.9 269.1,148.6 268.6,150.6 267.6,152.4 266.4,154 265,155.5 264.4,157.5 263,159 262.2,160.9 261.1,162.6 260.1,164.3"/>
<path d="M229.7,111.2 228.3,113.4 229.9,115.2 229.9,117.2 231,119.1 230,121.2 232.8,122.9 232.8,124.9 233.7,126.8 234.2,128.7 234,130.8 233.4,132.9 234.4,134.8 233.6,136.9 233.1,139 234.1,140.9 234.3,142.9 234.4,144.9 234.7,146.9 234.5,148.9 234.5,150.9 234.6,152.9 235.5,154.8 235.5,156.9 236.6,158.7 236.9,160.7"/>
<path d="M498.8,116 496.8,116.5 494.7,116.4 492.8,117.2 491.1,118.3 489,118.5 487.6,120.6 485.7,121 483.5,120.9 482,122.6 479.9,122.8 478.1,123.9 476.3,124.6 474.4,125.2 472.2,125.2 470.7,126.8 468.5,126.6 466.7,127.7 464.4,127.2 462.4,127.6 461.1,129.9 458.7,129.1 457,130.2 455.6,132.4 453.6,132.7 451.8,133.5 449.5,133.2 447.7,134.1 445.6,134.1 443.8,135 442,136.2 440.4,137.5 438.7,138.8 436.9,139.7 434.8,139.8 432.7,139.8 430.7,140.1 429.2,141.9 426.8,141.4 425.6,143.9 423.1,142.8 421.3,143.8 419.8,145.6 418.1,146.6 416,146.9 413.8,146.8 411.9,147.2 410.4,149 408.9,150.9 406.4,149.8 404.7,150.9 402.9,151.9 400.7,151.7 399.4,154.1 397.6,155 395.1,153.9 393.1,154.4 391.8,156.7 390,157.5 387.7,157 385.4,156.7 384.2,159.3 382.2,159.6 380.5,160.9 378.1,160 376.7,162.1 374.1,160.9 373,163.5 371,164.1 368.8,163.8 366.5,163.4 364.7,164.2 362.8,164.9 361.3,166.7 359.6,167.8 357.5,167.9 355.4,168.2 353.3,168.3 351.4,168.8 349.4,169.3 348,171.2 346.1,171.9 344.2,172.5 342.4,173.4 340.4,173.8 338.3,173.8 336.2,173.9 334.6,175.6 332.6,175.9 330.6,176.3 328.9,177.5 327.1,178.5 324.8,178 323.3,179.7 321.6,180.9 319.5,181.1 317.8,182.2 315.8,182.7 313.7,182.7 312,183.8 310.2,184.8 308.1,184.9 306.1,185.2 304.3,186.2 302.5,187.2 300.7,188 298.8,188.7 297,189.6 295,190 293.2,191 291.3,191.6 289.4,192.1 287.5,192.9"/>
<path d="M287.5,192.9 285.6,192.1 283.8,190.9 281.9,190.2 279.9,189.8 278.4,187.9 276,188.6 274.3,187.2 271.6,188.8 269.7,187.8 267.8,187 266.2,185.6 264,185.5 262.2,184.4"/>
<path d="M259.4,178.5 259.3,179.7 259.8,180.9"/>
<path d="M262.2,184.4 261.6,182.2 259.8,180.9"/>
<path d="M41.3,408.9 42.5,407.2 42.9,405.2 44.6,403.8 45.4,401.9 46.6,400.3 47.5,398.6 49.1,397.2 49.2,394.9 50.9,393.5 51,391.3 53.4,390.4 54.2,388.5 53.8,386 55.2,384.5 56.4,382.9 58.3,381.6 58.3,379.3 60.9,378.5 61.7,376.7 62.6,374.9 63.8,373.2 64.7,371.4 64.9,369.2 66.2,367.7 66.6,365.6 67,363.5 68.6,362.1 69.3,360.2 70,358.3 70.3,356.1 72.6,355.1 72.8,352.9 73.5,351 75.5,349.9 75.2,347.3 77.9,346.6 77.9,344.3 79.2,342.8 80.6,341.3 80.8,339 82.2,337.5 83.8,336.1 84.6,334.3 85.5,332.5 86.5,330.7 87.6,329.1"/>
<path d="M40.3,271.9 41.7,273.4 43.2,274.7 44.3,276.7 46,277.7 48.7,277.4 49.5,279.8 51,281.1 53.4,281.2 54.5,283.2 56.1,284.4 58.6,284.3 59.5,286.6 61.9,286.6 63.1,288.4 65,289.2 66.3,290.9 68,292 70.1,292.4 71.5,294 73.3,294.9 74.7,296.4 76.5,297.4 78,298.7 79.8,299.7"/>
<path d="M87.6,329.1 87.2,327.1 87.6,324.9 87.4,322.8 85.1,321.4 85.6,319.1 84.7,317.3 82.8,315.7 82.8,313.6 81.4,311.9 82.5,309.4 82.8,307.3 80.7,305.7 81.9,303.3 80.5,301.6 79.8,299.7"/>
<path d="M63.4,110.5 65.7,110.7 67.5,111.6 68.5,113.6 70.2,114.8 71.9,115.8 73.3,117.3 75.1,118.3 76.8,119.3 78.1,121 79.8,122 82.5,121.7 84.1,122.9 85.3,124.7 86.4,126.5 88.8,126.7 89.8,128.7 91.6,129.7 93.5,130.5 95.1,131.6 96.8,132.7 98.3,134.1 99.7,135.5 102.2,135.5 103.6,137 104.7,138.9 106.8,139.4 108.3,140.8 110.4,141.3 111.6,143 113.5,143.9 114.8,145.4 116.6,146.5 117.8,148.2 119.6,149.1 121.8,149.5 123.3,150.9 124.6,152.5 126.6,153.1 128.4,154 129.8,155.6 131.5,156.7 133.4,157.5 134.8,158.9 136.3,160.3 138.2,161.1 139.8,162.3 141.3,163.6 143.3,164.3 144.9,165.5 146.2,167.2 148.4,167.5 150,168.7 151.3,170.3 153.1,171.2 154.5,172.8 156.2,173.8 157.8,175 159.5,176.1 161.4,176.8 163,178.1 164.7,179.2 166.2,180.5"/>
<path d="M41,171.6 42.7,172.6 44.7,173.3 46,175 47.4,176.5 49.1,177.5 51.2,178 53.1,178.8 54.5,180.3 56.3,181.2 57.9,182.4 59.4,183.8 61.3,184.5 62.6,186.2 64.9,186.4 66.3,188 67.8,189.3 69.8,189.8 71.1,191.5 72.9,192.5 74.6,193.5 76.4,194.4 77.9,195.8 79.8,196.6 81.3,198 83,199 84.7,200.1 86.4,201.1 88.2,202.1"/>
<path d="M88.2,202.1 90.2,202.4 92.1,203.4 93.8,204.8 95.9,205 98.1,204.8 99.8,206.2 101.7,207.3 104.1,206.4 105.9,207.3 108,207.4 110.1,207.9 112,208.6 113.8,209.7 116.3,208.3 117.8,210.7 119.7,211.5 121.6,212.2 123.5,213 125.9,212.4 127.5,214.3 129.6,214.2 131.6,214.9 133.7,214.9 135.4,216.6 137.5,216.7 139.5,217.2 141.6,217.2 143.4,218.5 145.5,218.7"/>
<path d="M166.2,180.5 166.9,182.5 166.9,184.5 167.2,186.5 168.2,188.5 166.4,190.6 165.9,192.7 167.4,194.6 167,196.7 165.7,198.8 167.1,200.7 167.8,202.7 168.3,204.7 169,206.7 169.3,208.7 169,210.7 168.6,212.8"/>
<path d="M145.5,218.7 147.6,218.4 149.6,217.5 151.5,216.1 153.7,215.8 156.1,216.6 157.8,214.3 160,214.2 162.6,215.6 164.7,215.1 166.6,213.8 168.6,212.8"/>
<path d="M195.1,413.3 193.6,414.7 192.1,416.2 189.6,416.7 189,419.1 188.1,421.3 186.2,422.3 185.9,425 184.2,426.3 182.9,427.9 180.5,428.6 179,430 176.3,430.3 174.6,431.6 173.5,433.5 172.6,435.6 170.9,436.8 169.7,438.7"/>
<path d="M169.7,438.7 169.4,436.6 170.8,434.5 171.4,432.4 169.8,430.3 170.8,428.2 170.3,426.1 170,424 170.7,421.9 168.9,419.8 170.4,417.7 171,415.6 170.8,413.5 170.1,411.4 170.3,409.3"/>
<path d="M195.1,413.3 195.2,411 193.6,409.3 192.9,407.2 191.8,405.3 189.6,403.8 190.6,401.1 190.7,398.8 189.1,397.1 188.4,395.1"/>
<path d="M188.4,395.1 186,394.2 183.6,395.2 181.2,394.4"/>
<path d="M170.3,409.3 172.1,408.1 173.6,406.7 174.6,404.8 174.2,402 175.3,400.3 177.7,399.5 179.1,398 180.7,396.6 181.2,394.4"/>
<path d="M188.4,395.1 189.1,392.3 191.1,390.3"/>
<path d="M181.2,394.4 180,392.7 181.5,390.1 180.1,388.4 178,386.8 177.8,384.8 177.8,382.6"/>
<path d="M177.8,382.6 179.9,383.4 182.2,381.9 184.4,382.4 186.6,383 188.8,383.2"/>
<path d="M191.1,390.3 189.9,388.1 190.6,385.3 188.8,383.2"/>
<path d="M274.4,329.9 273.2,328.2 272.4,326.2 270,325.3 270.3,322.6 268.1,321.6 267.1,319.7 266.6,317.6 266.1,315.4 264.4,314 261.9,313.2 261.7,310.8 260.2,309.3 259.4,307.3 258.4,305.5 256.7,304.1"/>
<path d="M251.8,349.6 250.6,347.9 249.4,346.1 247.1,345.7 246.3,343.4 243.1,343.9 241.8,342.3 239.8,341.4 238.7,339.5 237.5,337.8 236.1,336.2 235.4,333.9 233.4,333 231.4,332.2 229.8,330.8"/>
<path d="M229.8,330.8 231.1,329.2 232,327.1 233.4,325.5 235,324.1 237.6,323.7 238.2,321.3 240.1,320.3 242.8,320 244.2,318.4 244.7,315.9 246.9,315.1 247,312.2 248.7,310.9 250.7,310 251.6,307.9 253.2,306.5 255.2,305.5 256.7,304.1"/>
<path d="M329,269.9 327,270 325,270.1 323,270.3 321,270.2 318.9,270 316.9,271.1 314.9,269.9 312.8,269.5 310.8,269.5 308.8,269.3 306.8,269.6 304.7,269.6 302.7,269 300.7,271 298.7,270.9 296.6,270.1 294.6,270.1 292.6,271 290.6,270.3 288.6,271.4 286.5,270.6"/>
<path d="M295.5,292.9 294.2,291.1 292.8,289.5 291.4,287.8 289.2,286.9 287,286 286.3,283.7 285.4,281.6 284.7,279.4 282.7,278.3"/>
<path d="M282.7,278.3 283.6,276.3 283.2,273.7 284.8,272.1 286.5,270.6"/>
<path d="M256.7,304.1 255.8,301.7 255,299.3 255.9,296.7"/>
<path d="M255.9,296.7 257.4,295.2 258.3,293.2 260.1,292 262.7,291.5 263.2,289.1 263.1,286.2 265.2,285.2 267,284 268.4,282.4"/>
<path d="M282.7,278.3 280.6,278.9 278.7,279.9 276.4,279.4 274.8,281.6 272.5,281.4 270.5,282 268.4,282.4"/>
<path d="M387,206 385.3,207.1 383.2,207.3 381.4,208.1 379.7,209.3 377.6,209.5 376.1,211.2 374.2,211.9 372.1,212.1 370.3,212.9 368.4,213.6 366.6,214.6 364.7,215.1 362.8,215.8 360.5,215.3 358.9,216.7 357.3,218.2 355,218 352.9,218.1 351.2,219.3 349.1,219.5 347.4,220.4 345.5,221.2 343.6,221.9 341.4,221.8 339.9,223.3 337.8,223.7 336.4,225.5 334.4,225.9 332.8,227.5 330.1,225.9 328.4,227.1 326.6,228 325,229.4 323.1,230.3 321.2,230.7 319.8,232.6 318,233.7 316.3,234.7 313.7,233.7 311.8,234.5 310.5,236.6 308.7,237.5 306.4,237.2 304.6,238.1 302.5,238.3 300.8,239.3 299.1,240.6 296.8,240.1 295.1,241.3 293.3,242.2 291.4,242.8 289.4,243.3"/>
<path d="M286.5,270.6 286.9,268.6 285.8,266.3 287.1,264.3 288.2,262.3 288.8,260.2 287.6,258 289.1,256 289.4,253.9 288.1,251.6 287.9,249.5 287.6,247.3 289.7,245.4 289.4,243.3"/>
<path d="M229.9,169.6 227.5,170.7 225.8,172.5 223.9,174.1"/>
<path d="M259.8,180.9 257.7,181.6 255.4,181.4 253.9,184 251.8,184.8 249.5,184.4 247.3,184.6 245,184 242.7,184.1 240.6,184.4 239,186.9 236.8,187.2 234.6,187.2"/>
<path d="M223.9,174.1 225.7,175.4 226.4,177.6 227,179.8 229.1,180.8 231.1,181.9 232.5,183.5 233.5,185.4 234.6,187.2"/>
<path d="M202,392.5 202.4,390.2 200.8,387.9 201.1,385.6 202.1,383.3 202.3,381.1"/>
<path d="M202,392.5 202.4,394.8 205.3,395.6 207,397.1 205.7,400.5 207.3,402.1 209.2,403.5 209.9,405.6"/>
<path d="M202.3,381.1 204.4,381.3 206.4,381.7 208.7,380.5 210.6,382.1 212.7,382.2 214.7,383 216.8,383.7 218.9,383.5 220.9,384.4 223.1,384"/>
<path d="M223.1,384 223.4,386.3 222.1,388.2 221.7,390.4 221.8,392.6 221.5,394.8 219,396.5 220.8,399.1 219.9,401.1 220.3,403.4 218.7,405.4"/>
<path d="M209.9,405.6 212.1,405.9 214.3,406 216.5,405.1 218.7,405.4"/>
<path d="M197.8,374.8 196.6,376.4 195.3,378.1 192.9,378.6 190.9,379.5 191.2,382.8 188.8,383.2"/>
<path d="M197.8,374.8 199.6,376.6 201.1,378.8 202.3,381.1"/>
<path d="M191.1,390.3 193.3,390.6 195.3,391.8 197.2,393.6 199.8,392 202,392.5"/>
<path d="M195.1,413.3 197.4,413.2 199,411.8 200.8,410.7 202.6,409.7 203.7,407.3 206.2,407.6 208.6,407.5 209.9,405.6"/>
<path d="M237.5,370.9 235.5,372.3 233,372.8 231.6,375.1 229.6,376.4 227.2,377.1"/>
<path d="M227.2,377.1 226.5,379 225.2,380.6 223.8,382 223.1,384"/>
<path d="M234.7,418.6 233.2,417.2 231.2,416.3 228.8,416 227.4,414.4 227.7,410.8 226.4,409.1 224.2,408.5 221.7,408.3 220,407.1 218.7,405.4"/>
<path d="M239.1,370.6 238.5,372.2 237.5,370.9"/>
<path d="M169.7,438.7 168.8,440.4 168.1,442.4 167,444.1 166.2,445.9 165,447.5 164.5,449.5 163.9,451.4 162.4,453 161.5,454.7 161.1,456.8 159.8,458.4 159,460.2 157.9,462 156.8,463.6 156.7,465.8 155.2,467.3 154.3,469.1"/>
<path d="M88.2,202.1 89.1,203.9 90.1,205.7 91.9,206.9 92.9,208.6 93.3,210.9 94.6,212.5 95.4,214.4 96.6,216 98.7,217 100.2,218.4 102.4,219.3 102.8,221.5 103.8,223.3 105.6,224.5 106.9,226 108.6,227.3 108.7,229.8 111.3,230.3 111.7,232.5 111.9,234.9 112.8,236.8 115.8,237.1 115.4,239.9 116.6,241.5 117.3,243.5 118.8,244.9 120.8,246 122,247.6 123.4,249.1 124.5,250.8 125.4,252.7 126.5,254.3 128,255.7"/>
<path d="M145.5,218.7 146,220.7 145.6,223 146.8,224.8 146.4,227.1 147.2,229 148.1,231 150,232.7 150.3,234.8 149.5,237.1 149.9,239.2 152,240.8 152.2,242.9 152,245.2 152.3,247.3 152.7,249.3 154,251.2 154.2,253.3 154.8,255.3"/>
<path d="M128,255.7 130.1,255.8 132.1,255.3 134.2,255 136.2,254.2 138.3,254.8 140.3,254.8 142.4,257.1 144.5,257 146.5,254.9 148.6,255 150.6,255.4 152.7,254.5 154.8,255.3"/>
<path d="M41,243.9 42.7,245.1 45.1,244.8 46.9,245.7 48.4,247.1 50.2,248 52,248.9 53.5,250.6 55.7,250.7 57.7,251.1 59.6,251.8 60.6,254.3 62.6,254.8 64.4,255.8 66.9,255.3 67.9,257.8 69.9,258.2 71.6,259.3 74.1,258.9 75.4,260.7 77.6,260.9 79,262.5 81,263 82.6,264.4 84.4,265.3 86.5,265.6 88.1,266.9 90.1,267.5 91.7,268.6 93.6,269.4 95.5,270 97.5,270.6 99.1,271.9 100.8,273 102.8,273.6 104.6,274.4 106.2,275.7 108,276.6 109.8,277.6 111.6,278.3"/>
<path d="M111.6,278.3 113.5,277.5 115.7,277.1 117.5,276.3 117.9,273.1 119.6,272.1 121.5,271.3 123.6,270.7"/>
<path d="M128,255.7 126.8,257.7 128.4,260.5 127,262.4 125,264.2 125.3,266.6 125,268.8 123.6,270.7"/>
<path d="M262.2,184.4 261.9,186.5 259.8,187.8 258.4,189.4 257.4,191.2 256,192.9 255.9,195.1 257.1,197.9 256.3,199.9 254.1,201.1 253,202.9 253.1,205.2 251.7,206.8 250.6,208.6"/>
<path d="M234.6,187.2 234.2,189.5 234.1,191.8 233.1,194 234.5,196.5 234,198.7 233.6,201"/>
<path d="M250.6,208.6 248.6,208.2 246.8,207 244.7,206.6 242.6,206.4 241.3,204.2 238.7,205 237.6,202.2 235.8,201.2 233.6,201"/>
<path d="M243.8,256.7 244.5,254.8 245,252.7 245.3,250.6 247.5,249.1 246.7,246.7 249.4,245.3 247.3,242.4 248.8,240.7 249,238.6 249.7,236.6 250.3,234.6 251.6,232.8 251.8,230.7 252.7,228.7 253.5,226.8"/>
<path d="M243.8,256.7 245.9,257.4 247.8,258.5 249.7,259.3 251.4,260.8"/>
<path d="M251.4,260.8 252.9,259.4 254.6,258.2 256.8,257.7 258.7,256.7 259.6,254.5 261.4,253.5 261.8,250.7 263.4,249.4 265.4,248.6 266.3,246.3 269,246.4 270.4,244.8 272,243.6 273.4,242 275.5,241.3 276.9,239.7 278.8,238.7 280.3,237.2"/>
<path d="M257,224.4 256.1,226.8 253.5,226.8"/>
<path d="M257,224.4 259.1,225.7 261.2,226.8 263.9,224.9 266.1,225.7 268.4,226 270.7,226.7"/>
<path d="M270.7,226.7 271.9,228.3 272.9,230.2 274.8,231.2 275.7,233.1 277.7,234 278.4,236.2 280.3,237.2"/>
<path d="M268.4,282.4 267.3,280.5 265.3,279.5 264.8,277.2 263.4,275.6 261.6,274.3 261.9,271.4 260.2,270 257.9,269.1 256.3,267.7 255.3,265.8 254.5,263.8 253.1,262.1 251.4,260.8"/>
<path d="M289.4,243.3 287.5,242.2 286.1,240.3 283.1,241 282.9,237.2 280.3,237.2"/>
<path d="M250.6,208.6 250.9,210.8 250.7,213.2 253.1,214.5 253.2,216.7 255.4,218.2 254.4,220.8 255.2,222.8 257,224.4"/>
<path d="M233.6,201 232.1,202.4 230.1,203.1 228.4,204.4 226.5,205.2 224.3,205.5 222.5,206.6 221.1,208.4 219.1,209"/>
<path d="M222.2,228.9 222.2,226.8 220.9,225 219.5,223.2 220.7,220.9 219.7,219.1 220.7,216.9 220.2,214.9 219.3,213 218.4,211.1 219.1,209"/>
<path d="M222.2,228.9 224.3,229.4 226.4,229.2 228.4,228.3 230.4,226.6 232.6,228.8 234.7,227.5 236.7,226.7 238.9,227.7 241,229 243.1,227.9 245.2,228.5 247.2,227.2 249.2,226.1 251.4,226.7 253.5,226.8"/>
<path d="M287.5,192.9 287,195 285.6,196.6 285.2,198.8 282.8,199.9 281.3,201.5 281.2,203.8 281.5,206.3 279.5,207.6 278.1,209.3 278.8,212 277.8,213.8 276.7,215.6 274.9,217.1 274.4,219.2 272.9,220.8 272.3,222.8 270.9,224.5 270.7,226.7"/>
<path d="M203.4,198.8 204.8,197.3 206.1,195.8 205.8,193.1 208.1,192.2 209.7,190.8 210.1,188.6 212,187.5 212.2,185.2 215.3,184.9 215.3,182.4 217.2,181.2 216.5,178.3 217.7,176.6 219.2,175.2 220.8,173.8"/>
<path d="M203.4,198.8 202.1,197.3 200.9,195.6 199,194.6 198.1,192.7 196.6,191.4 195,190 194.6,187.7 193.7,185.8 193.2,183.6 190.5,183.2 189.6,181.3 187.2,180.7 186.5,178.6 185.4,176.9"/>
<path d="M192.5,165.6 194.6,165 196.6,165.2 198.7,166.6 200.8,166.8 202.9,165.1 204.9,166.4 207,165.5 209.1,164.6 211.2,165.3 213.2,165.6"/>
<path d="M192.5,165.6 191.2,167.5 189.4,169 187.3,170.3 187.2,172.8 186.9,175.3 185.4,176.9"/>
<path d="M213.2,165.6 214.8,167.2 217,168.3 218.9,169.5 219.3,172.2 220.8,173.8"/>
<path d="M203.4,198.9 205.1,200.2 207.6,200 208.7,202.1 210.8,202.8 212.1,204.6 213.7,205.9 216,206.2 217.3,208 219.1,209"/>
<path d="M203.4,198.9 203.4,198.8"/>
<path d="M223.9,174.1 222.3,174.6 220.8,173.8"/>
<path d="M166.2,180.5 168.4,180.5 170.4,179.4 172.5,178.7 174.9,179.6 177,179.2 179.1,178.4 181.2,178 183.1,176.7 185.4,176.9"/>
<path d="M168.6,212.8 170.4,214.3 172.8,214.9 174.8,216.1"/>
<path d="M183.3,216.6 181.2,217.6 179,217.1 176.9,216.5 174.8,216.1"/>
<path d="M183.3,216.6 184.8,215.1 186.1,213.5 188.4,213 188.6,210 190.9,209.6 192.7,208.5 193.4,206.2 195.5,205.5 197.6,204.7 199.6,203.8 200.9,202.2 201.6,200 203.4,198.9"/>
<path d="M176.6,111.9 177.4,113.8 177.9,115.7 179.2,117.4 179.8,119.3 179.1,121.6 180.6,123.3 180.3,125.4 181.2,127.2 182.2,129 182.1,131.1 182.5,133.1 183.8,134.8 184.6,136.7 184.5,138.8 185.3,140.6 186,142.5 186.3,144.5 187.3,146.3 187.5,148.3 187.8,150.3 188.5,152.2 189,154.2 189.5,156.1 190.1,158 190.7,159.9 191.4,161.8 191.9,163.7 192.5,165.6"/>
<path d="M220.8,111.5 219.7,113.4 220.4,115.5 219.8,117.5 218.8,119.4 219.8,121.6 220.1,123.7 218.9,125.5 218.5,127.5 218.8,129.6 219.2,131.7 217.6,133.5 217.4,135.5 219.2,137.9 217.6,139.7 218,141.8 215.9,143.5 215.4,145.5 216.2,147.7 214.8,149.5 215.5,151.7 214.8,153.6 214.9,155.7 214.1,157.6 214.4,159.7 213.5,161.6 213.5,163.6 213.2,165.6"/>
<path d="M255.9,296.7 253.7,296.6 251.6,295.7 249.9,294 247.4,295 245.7,292.7 243,294.5 241.2,293.3 239,293.2 236.8,292.9 234.9,291.5 232.9,290.8"/>
<path d="M243.8,256.7 241.6,257.4 239.2,257 237.1,258.4 234.8,258.9 232.5,259"/>
<path d="M232.9,290.8 233.4,288.7 233.1,286.6 233.5,284.4 233.9,282.3 233.1,280.2 232,278.1 232.5,276 232.2,273.8 231.8,271.7 232,269.6 232.8,267.5 233,265.3 232.5,263.2 232.2,261.1 232.5,259"/>
<path d="M237.5,370.9 235.8,369.6 234.7,367.9 233.3,366.3 231.6,365.1 229.9,363.9 228.6,362.3 228,360 226.3,358.8 224.2,357.9 222.3,357 221.6,354.7 219.3,354.2 217.7,352.8 216.9,350.7 215.3,349.4"/>
<path d="M229.8,330.8 229.3,328.7 228.1,330.6"/>
<path d="M228.1,330.6 227.2,333.3 224,333.9 222.6,336.1"/>
<path d="M215.3,349.4 216.7,347.6 217.1,345.4 218,343.5 219.4,341.8 221.2,340.3 222.3,338.5 222.6,336.1"/>
<path d="M121.2,327.5 119.1,327 117.9,324.5 115.5,324.8 113.6,323.9"/>
<path d="M113.6,323.9 112.6,325.8 112.6,327.9 112.6,330 111.6,331.9 112.3,334.1 112.3,336.2 109.8,337.8 110.6,340.1 110.5,342.2 108.4,343.8 108.7,346 108.5,348 107.2,349.8 106.1,351.7 106.6,353.9 106,355.9 106,358"/>
<path d="M121.2,327.5 121.6,329.6 122.4,331.5 122.5,333.7 123.1,335.7 122.5,338.1 123.5,340 123.6,342.2 125.6,343.9 125.9,346"/>
<path d="M125.9,346 123.7,346.4 122.1,347.7 119.9,348.2 118.4,349.8 117,351.7 114.8,352.2 113.1,353.4 111.5,354.8 109.3,355.3 107.3,356.1 106,358"/>
<path d="M41.3,413.8 43.5,413.2 44.6,411.4 46.5,410.5 47.6,408.5 49.5,407.6 52,407.6 53.8,406.7 55.6,405.6 56.1,402.9 58.9,403.2 59.8,401.1 60.9,399.1 63.1,398.7 64.9,397.7 65.9,395.6 68.2,395.3 70.1,394.5 70.9,392.1 72.1,390.3 73.8,389.2 76.1,388.8 77.3,387 79.2,386.2 80.4,384.4 82,383.2 83.5,381.8 85.2,380.7 87.3,380.1 88.9,378.7 90.4,377.4 91.8,375.8 93.8,375.1 95.2,373.6"/>
<path d="M87.6,329.1 89.6,328.1 91.9,328.5 94.1,328.5 95.6,325.9 97.9,326.1 99.7,324.5 101.8,323.9 103.7,323 106.2,324 108.5,324.2 110.3,322.5 112.4,322.1"/>
<path d="M112.4,322.1 113.5,322.6 113.6,323.9"/>
<path d="M95.2,373.6 97.2,372.4 98.5,370.8 97.5,367.5 100.1,366.7 100.7,364.6 103.2,363.8 104.6,362.2 105,359.9 106,358"/>
<path d="M170.3,409.3 169.5,407.4 170.3,405 169.7,403.1 167.1,401.7 166.8,399.7 167.1,397.4 166.9,395.4 166.3,393.4 166.2,391.3 165.4,389.4 164.3,387.6 163.2,385.8"/>
<path d="M72.8,469.9 73.2,467.6 75.8,467.2 75.7,464.4 77.4,463.2 79.3,462.3 81,461 81.7,459 82.7,457.2 84.4,456.1 85.2,454.1 86.7,452.8 88.3,451.5 89.8,450.1 90.9,448.4 92.1,446.8 94.1,445.9 94.9,443.9 96.1,442.3 97.2,440.6 98.7,439.2 99.6,437.3 100.9,435.9 102,434.2 104.2,433.4 105.6,432 107.2,430.7 108.3,429 109.6,427.5 110,425.1 111.7,423.9 112.7,422.2 115,421.5 115.4,419.2 116.8,417.7 118.1,416.2 120,415.2 121.2,413.6 122.9,412.4 123.6,410.3 125.4,409.3 126.1,407.2 128.1,406.3 129.4,404.8 130.9,403.4 131.8,401.5 133.5,400.4 134.8,398.8 135.9,397.1 137.5,395.9 138.4,394 140,392.7 141.4,391.3 142.6,389.7 144,388.3 145.3,386.7 146.7,385.3"/>
<path d="M146.7,385.3 148.8,386 150.9,384.4 152.9,384.9 155,386.4 157,387.4 159.1,386.7 161.2,385.6 163.2,385.8"/>
<path d="M112.6,319 113.9,317.4 115.8,316.2 116.4,313.9 117.1,311.8 119.5,311 120.4,309 120.7,306.6 123.4,306 125.2,304.6 125.6,302.3"/>
<path d="M112.6,319 111.6,317.1 110.2,315.6 108,314.8 106.7,313.3 106.4,310.7 103.5,310.6 102.5,308.6 100.4,307.8 100.6,304.8 99,303.5 97.6,302 95.8,300.8"/>
<path d="M125.6,302.3 124.7,300.3 123.8,298.4 121.7,297.6 120.3,296.1 117.8,295.8 117.2,293.4 115.1,292.7 114.2,290.8 113,289.1 111.6,287.6"/>
<path d="M95.8,300.8 97.3,299.3 98.9,298.1 100.5,296.7 100.9,294 102.9,293.3 106.3,294 106.9,291.6 109,290.9 109.9,288.7 111.6,287.6"/>
<path d="M121.2,327.5 123.3,328.1 125.4,327.5 127.5,326.6 129.5,326.8 131.6,326.7 133.7,327.3 135.8,328.1 137.9,328.8 140,327.7 142.1,327 144.2,327.8"/>
<path d="M144.2,327.8 143.3,326 143.7,323.7 142.3,322.1 143.4,319.7 142.4,317.8 141.5,316 140.1,314.3 139.5,312.4 138.8,310.5 139.2,308.3 137.4,306.8 137.7,304.6 136.9,302.7 136.4,300.8"/>
<path d="M136.4,300.8 134.2,301.3 131.9,300.3 129.9,301.6 127.8,302.6 125.6,302.3"/>
<path d="M112.4,322.1 111.7,320.5 112.6,319"/>
<path d="M79.8,299.7 81.8,299.6 83.8,300.1 85.7,300.9 87.8,299.7 89.9,299.3 91.8,300.1 93.8,300.5 95.8,300.8"/>
<path d="M111.6,278.3 111.4,280.7 110.8,283 112.8,285.3 111.6,287.6"/>
<path d="M136.4,300.8 137.8,299 139.3,297.2 141.9,296.6 142.3,293.7 144.5,292.7"/>
<path d="M123.6,270.7 125.5,271.7 126.5,273.8 128.5,274.7 129.6,276.7 131.4,277.9 132.5,279.8 135.2,279.9 136.6,281.6 137.9,283.3 140.4,283.7 141.1,286.1 142.7,287.5 144.3,288.8"/>
<path d="M144.5,292.7 144.6,290.7 144.3,288.8"/>
<path d="M222.2,228.9 221.7,231.4 219.3,232.6 218.6,235 216.6,236.5 215.7,238.8"/>
<path d="M232.5,259 231,256.9 228.2,257.7 226.5,256.1 224.5,255.3 223,253.5 220.6,253.3"/>
<path d="M215.7,238.8 216,241 217.2,242.9 219.3,244.5 217.4,247.5 218.9,249.3 219.8,251.3 220.6,253.3"/>
<path d="M183.3,216.6 183.9,218.7 186,219.7 187.1,221.4 188.6,222.9 190.7,223.9 192.1,225.3 191.9,228.1 193.6,229.4 193.7,231.8 195.7,232.9 197.6,234.1 198.3,236.1"/>
<path d="M215.7,238.8 213.6,238.2 211.2,239.5 209.2,238 206.9,238 205,236.3 202.7,236.8 200.5,236.5 198.3,236.1"/>
<path d="M220.8,320.4 219.1,318.3 219.4,315.7"/>
<path d="M228.1,330.6 226.9,328.9 224.7,327.8 225,325.1 223.6,323.5 221.8,322.2 220.8,320.4"/>
<path d="M232.9,290.8 231.1,291.9 229,292.4 227.5,294.4 224.6,292.5 222.9,293.9 221.1,295.1"/>
<path d="M219.4,315.7 220.2,313.7 221,311.6 221.5,309.6 218.9,307.3 220.1,305.3 220.2,303.3 219.4,301.1 220.4,299.1 220.8,297.1 221.1,295.1"/>
<path d="M220.6,253.3 219,254.5 218.1,256.6 216.7,258.2 215.3,259.7 214,261.4 211.7,262 211.5,264.8 209.3,265.5 207.6,266.8 206.6,268.7 205.1,270.2 203.6,271.7 201.9,273"/>
<path d="M201.9,273 203.1,274.6 203.6,276.7 205.8,277.7 207.3,279 208,281 209,282.7 210.7,284 211.4,286 212,288 213.1,289.7 215.2,290.7 215.9,292.7"/>
<path d="M221.1,295.1 218.7,293.3 215.9,292.7"/>
<path d="M215.3,349.4 213.5,350.6 211.6,351.5 209,351.1 207.5,353"/>
<path d="M227.2,377.1 225.7,375.3 223.6,374.7 221.3,374.5 219.3,373.7 218,371.6 215.2,372.3 214.5,369 211.8,369.6 210.1,368.1 208.6,366.4 206.5,365.8 204.5,364.9"/>
<path d="M207.5,353 207.1,355 206.8,357 206.7,359.1 205.9,361 205.1,362.9 204.5,364.9"/>
<path d="M197.8,374.8 197.7,372.3 198.1,369.8"/>
<path d="M198.1,369.8 199.3,368.1 201.2,367.1 203.2,366.4 204.5,364.9"/>
<path d="M136.2,347.5 136.7,349.6 137.5,351.5 138,353.6 138.9,355.4 140.6,357 142.3,358.6 142,361 142.6,363"/>
<path d="M136.2,347.5 137.3,345.7 138,343.7 140.1,342.4 140,340 141.9,338.6 141.3,336 142.4,334.2 142.6,332 144.3,330.5 145,328.5"/>
<path d="M162.3,341.3 160.8,339.9 160.6,337.3 159.6,335.5 156,335.9 155.7,333.5 153.5,332.7 152.6,330.8 151.5,329"/>
<path d="M162.3,341.3 161.1,343 159.4,344.3 157.9,345.8 156.5,347.4 155.9,349.5 154.7,351.2 155.1,354.1 152.5,354.8 152.2,357.1 149.4,357.7 148.7,359.7 147.4,361.4"/>
<path d="M147.4,361.4 145,362 142.8,363.1"/>
<path d="M145,328.5 147.2,328.1 149.3,329 151.5,329"/>
<path d="M142.6,363 142.8,363.1"/>
<path d="M125.9,346 127.8,347.4 130.1,346.3 132.2,346.4 134.2,346.8 136.2,347.5"/>
<path d="M95.2,373.6 97.2,373.3 99.3,373.3 101,371.9 103.4,373 104.9,370.6 106.9,370.2 109,370.3 110.6,368.5 112.6,368.2 115,369.4 117,369 118.8,368 121.1,368.8 123.1,368.6 124.8,367.2 126.8,366.5 129,367.3 130.9,366.6 132.9,366 134.7,364.7 136.6,364.3 138.7,364.2 140.6,363.7 142.6,363"/>
<path d="M144.2,327.8 144.4,328.3 145,328.5"/>
<path d="M172.1,305.3 170.3,304.3 168.1,304.3 166.6,302.6 164.3,302.9 162.4,302.2 160.9,300.5 159.8,298 157.3,298.6 156.1,296.5 154.4,295.3 151.8,296.1 149.8,295.5 148,294.8 146,294.3 144.5,292.7"/>
<path d="M172.1,305.3 170.5,306.7 169.6,308.6 168.5,310.4 166.4,311.4 166.5,314.3 164.3,315.1 161.6,315.6 160.5,317.4 158.7,318.6 157.2,320.1 156,321.8 155.5,324.1 154.4,326 152.8,327.3 151.5,329"/>
<path d="M146.7,385.3 146.8,383.2 146.3,381.2 145.1,379.3 145.4,377.2 144,375.3 145.3,373 143.7,371.2 144.3,369.1 143.2,367.2 143.3,365.1 142.8,363.1"/>
<path d="M163.2,385.8 164.1,385 165,384.2"/>
<path d="M147.4,361.4 149.4,361.6 151.8,360.7 153.1,363.6 155.2,363.5 156.9,365.3 159.4,363.8 161.4,363.9 163.1,365.5"/>
<path d="M163.1,365.5 162.6,367.7 163.3,369.7 163.9,371.7 165.4,373.7 163.7,375.9 165.6,377.8 163.8,380.1 165.2,382.1 165,384.2"/>
<path d="M177.8,382.6 176.7,382 175.6,381.4"/>
<path d="M175.6,381.4 173.4,381.5 171.4,382.5 169.4,383.5 167.1,383.3 165,384.2"/>
<path d="M167.3,257 165.2,257.3 163.2,258 161.6,259.4"/>
<path d="M167.3,257 169.6,256.4 171.7,258.6 174,257.8 176.3,257.9 178.6,257.4 180.9,257.5"/>
<path d="M180.9,257.5 182.2,259.1 183.4,260.9 184.4,262.8 186.8,263.3 188.3,264.7 189.7,266.3 191.9,266.9 194,267.7 195.3,269.3 196.3,271.2 197.8,272.7"/>
<path d="M161.6,259.4 161.9,260.6 161.3,261.6"/>
<path d="M161.3,261.6 162,263.6 164.1,264.9 164.1,267.2 165.2,269.1 166.7,270.7 165.9,273.4 167.9,274.8 167.5,277.3 169.1,278.9 170.8,280.4 172.7,281.8 172.2,284.4 174.1,285.9 174.7,287.9 175.8,289.7 176.9,291.5 177.2,293.7 178.2,295.6"/>
<path d="M178.2,295.6 179.4,294 180.7,292.5 182.5,291.3 182.6,288.8 183.4,286.8 186,286.4 188.3,285.7 188.2,283 191.2,282.9 191.4,280.4 192,278.3 194.6,277.9 194.3,275 196.6,274.3 197.8,272.7"/>
<path d="M174.8,216.1 174.4,218.2 174.4,220.3 174.3,222.4 173.2,224.3 172.3,226.2 171.8,228.3 172.6,230.5 171.7,232.5 170.3,234.3 172.4,236.8 170.6,238.6 171.1,240.8 171.8,243 169.8,244.8 170.1,246.9 167.9,248.6 168.2,250.8 167.3,252.8 167.1,254.8 167.3,257"/>
<path d="M154.8,255.3 156.2,258.1 160.1,256.6 161.6,259.4"/>
<path d="M198.3,236.1 197.4,238.1 196.5,240.1 194.9,241.5 192.1,242 192.2,244.8 189.4,245.3 187.8,246.7 188.3,249.9 185.7,250.5 185.9,253.4 184.3,254.9 182.2,255.9 180.9,257.5"/>
<path d="M201.9,273 199.9,272.7 197.8,272.7"/>
<path d="M144.3,288.8 145.9,287.5 146.3,285.4 147.3,283.6 148.2,281.8 149,279.9 151.4,279.1 151.1,276.5 152.6,275.1 153.8,273.5 154.3,271.4 156,270.1 157.5,268.7 158.1,266.7 160.1,265.6 160,263.2 161.3,261.6"/>
<path d="M172.1,305.3 174.3,304.9 176.4,304.6"/>
<path d="M176.4,304.6 177.1,302.4 177.9,300.2 178.5,298 178.2,295.6"/>
<path d="M220.8,320.4 218.5,320 216.4,320.4 214.7,321.9 213,323.3 211.2,324.6 209.2,325.3 206.8,324.6 204.7,324.8 202.7,325.5 201,326.9 198.8,326.8 196.9,327.8"/>
<path d="M222.6,336.1 220.6,335.7 218.5,335.9 216.4,336.8 214.4,335.7 212.5,334.9 210.5,334.4 208.3,335.5 206.4,333.6 204.2,335.5 202.2,334.7 200.2,334.1"/>
<path d="M200.2,334.1 199.7,331.7 198.2,329.8 196.9,327.8"/>
<path d="M207.5,353 205.6,352.2 204.3,350.7"/>
<path d="M200.2,334.1 199.6,336.1 201.7,338.4 199.7,340.3"/>
<path d="M204.3,350.7 202.1,349.2 201.8,346.8 202.4,344.1 201,342.2 199.7,340.3"/>
<path d="M196.9,327.8 196.5,327.6"/>
<path d="M219.4,315.7 217.3,315.9 215.4,314.4 213.3,314.2 211.1,315 208.9,315.3 206.9,314.9 204.9,313.8 202.8,313.4 200.5,315 198.5,314.5 196.4,313.9 194.3,313.7 192.4,312.2 190.3,311.8 188.1,312.5"/>
<path d="M196.5,327.6 195.5,325.7 195,323.5 192.9,322.2 191.7,320.4 191.9,317.8 190.4,316.2 189.5,314.3 188.1,312.5"/>
<path d="M215.9,292.7 213.8,293.1 212.3,294.8 210.9,296.6 208.2,296.1 207.2,298.7 205.3,299.6 203.4,300.6 200.8,300 198.4,300 196.6,301.1 195.1,302.7 193.2,303.8 191.1,304.2 189.4,305.4 187.8,306.9 186.1,308.2 184,308.8"/>
<path d="M188.1,312.5 186.3,310.4 184,308.8"/>
<path d="M176.4,304.6 179.3,305.2 180.7,307.8"/>
<path d="M180.7,307.8 182.5,307.8 184,308.8"/>
<path d="M186.3,350.7 185.9,348.6 184.6,346.9 183.4,345.3 182.7,343.3"/>
<path d="M186.3,350.7 186.4,352.9 185.9,355.1 185.2,357.1 184.3,359.2 183.8,361.3 183.8,363.5"/>
<path d="M170.6,361.2 172.3,362.7 174.9,361.7 176.8,362.7 178.3,364.5 180.4,364.9"/>
<path d="M170.6,361.2 170,359.2 170,356.9 169.3,354.9 169,352.8 167.3,350.9 167.2,348.8 167.9,346.4 167.1,344.4 166.3,342.3"/>
<path d="M183.8,363.5 182.4,364.9 180.4,364.9"/>
<path d="M166.3,342.3 168.3,340.3 171.1,341 173.1,339.1 175.9,339.6"/>
<path d="M175.9,339.6 178.3,341 181,341.6"/>
<path d="M182.7,343.3 181.5,342.8 181,341.6"/>
<path d="M204.3,350.7 202.3,350.4 200.3,351.5 198.3,351.4 196.3,350.4 194.3,348.7 192.3,350.6 190.3,350.1 188.3,351.4 186.3,350.7"/>
<path d="M199.7,340.3 197.7,341.2 195.4,340.7 193.2,340.6 191.2,341.7 189.3,343.4 187.1,343.5 184.7,342.6 182.7,343.3"/>
<path d="M198.1,369.8 196.2,368.6 193.4,369.3 192.5,365.8 189.7,366.8 188.1,364.9 185.6,365 183.8,363.5"/>
<path d="M163.1,365.5 165.8,365.9 166.8,363.2 168.6,362.1 170.6,361.2"/>
<path d="M175.6,381.4 176.1,379.3 177.1,377.3 176.4,374.9 176.7,372.7 177,370.6 179.6,369.1 180.7,367.2 180.4,364.9"/>
<path d="M162.3,341.3 164.6,340.6 166.3,342.3"/>
<path d="M180.7,307.8 180.6,309.9 180.2,311.8 179.9,313.8 179.2,315.7 179.2,317.8 177.6,319.5 178.7,321.7 177.5,323.6 179,325.8 178.6,327.8 178.3,329.8 177.7,331.7 177.4,333.7 177,335.7 176.3,337.6 175.9,339.6"/>
<path d="M196.5,327.6 194.4,328.4 193,329.9 193.1,333.1 191,334 189.2,335 187.6,336.4 185.4,337.1 184.5,339.2 183,340.6 181,341.6"/>
</g>
<path d="M193.3,140 196.7,133 200,132.3 206.7,136 215,139.3 231.7,138 240,136.5 245,135.8 251,139.5 256.7,143.8 262,144.3 271,145.8 278,149.3 285,154.3 292,160.8 299,167.8 306,174.8 313,181.8 319.5,188.3 323.5,194.8 325.8,198.3 321,207 316.7,214 311,218.5 307.7,222 307.2,241.4 323,241.4 323.3,239.4 341,239.4 336.8,246 335.8,252.5 337.2,258 339.3,264.5 344,270 350,276.5 357.5,284 366.7,293 376,298.8 388,303.5 400,307.2 420,313.5 440,320.5 454.2,324.2 468,324 482.8,324 479,328 440,369 399,412 380,412.7 366.5,412.6 356,414.8 347,418.2 338,423.2 325,428.3 316,434.5 312.5,438.2 301.7,438 289,438 285,435.6 280.5,432 275,430.5 270.5,433 264,434.5 258.5,438 255,442 252,446.5 249,451 246.8,454.5 240,453 235,451.5 230,451 213,450.5 205.5,448 200,444 192,438.5 185,434 178.5,429.3 174,427.5 165.8,425.3 165,423.6 146.5,423.5 143.3,421 141.5,419 140.8,412 140.3,405 139,399 136.5,397 130,398.3 128,398.5 125,397 123,391.5 121,386 118.6,380 117,372 114.2,370 112,365.5 106,360 101,354.5 96,348.5 91.3,343 86,338.5 78,332.3 63,331 62.2,325 64.5,318 66.3,313 78,313.5 81.3,312.7 92,310 93.5,304 93.8,300 93.5,290 94,276.5 96.5,268 98.5,258 100,249 103,245.7 115.8,244.3 116.5,234 118.3,222 119,219 124,215.3 127,209 130,204.3 133.5,199 138.5,194 150,193 150.5,185.5 153,173 156,167.3 159,164 159.5,151.5 162,146.8 170,147 178,147 179,143.5 183,143.5Z" fill="none" stroke="#a8a8a8" stroke-width="0.55" stroke-linejoin="round"/>
<g>
<text class="zl" x="203.3" y="155.1">N.Western</text>
<text class="zl" x="176.7" y="163">Western</text>
<text class="zl" x="226.3" y="158.5">Cent.T</text>
<text class="zl" x="245.8" y="155.6">Eastern</text>
<text class="zl" x="243.3" y="171.8">Mekelle</text>
<text class="zl" x="241.3" y="178.5">S.Eastern</text>
<text class="zl" x="203.3" y="179.8">N.Gondar</text>
<text class="zl" x="223" y="193.5">WagHamra</text>
<text class="zl" x="245.5" y="195.1">S.Tigray</text>
<text class="zl" x="276.3" y="173.5">Kilbati</text>
<text class="zl" x="265.8" y="204.8">Fanti</text>
<text class="zl" x="292.5" y="218.1">Awsi /Zone 1</text>
<text class="zl" x="235.8" y="216.8">N.Wello</text>
<text class="zl" x="205" y="221.5">S.Gondar</text>
<text class="zl" x="151.7" y="198.8">W.Gondar</text>
<text class="zl" x="183" y="196.5">Gondar</text>
<text class="zl" x="161.3" y="236.5">Awi</text>
<text class="zl" x="180.8" y="240.1">W.Gojam</text>
<text class="zl" x="182.3" y="240.2">BD</text>
<text class="zl" x="199.7" y="255.5">E.Gojam</text>
<text class="zl" x="237.5" y="242.6">South Wello</text>
<text class="zl" x="258.3" y="249.3">Oromia</text>
<text class="zl" x="265.8" y="258.5">Hari</text>
<text class="zl" x="221.3" y="276">NSH(OR)</text>
<text class="zl" x="244" y="275.7">NSH(AM)</text>
<text class="zl" x="309.7" y="263.1">Siti</text>
<text class="zl" x="310" y="281">D.D</text>
<text class="zl" x="318.5" y="290.1">Harari</text>
<text class="zl" x="313.8" y="302.6">E.Hararge</text>
<text class="zl" x="280" y="307.3">W.Hararge</text>
<text class="zl" x="234.5" y="312.8">E.Shewa</text>
<text class="zl" x="139.2" y="242.1">Metekel</text>
<text class="zl" x="110" y="263.8">Assosa</text>
<text class="zl" x="139.7" y="272.6">Kamashi</text>
<text class="zl" x="97.5" y="288.5">M.Komo</text>
<text class="zl" x="125.8" y="288.5">W.Wellega</text>
<text class="zl" x="162.5" y="286.8">E.Wellega</text>
<text class="zl" x="110" y="303.5">K.Wellega</text>
<text class="zl" x="179.2" y="278.5">Horo</text>
<text class="zl" x="196.7" y="293.5">W.Shewa</text>
<text class="zl" x="205.3" y="310.5">SW.Shewa</text>
<text class="zl" x="150.5" y="313.1">B.Bedele</text>
<text class="zl" x="204.2" y="321.5">Gurage</text>
<text class="zl" x="169.2" y="329.3">Jimma</text>
<text class="zl" x="185.8" y="331.8">Yem</text>
<text class="zl" x="207.5" y="332.1">Silte</text>
<text class="zl" x="193" y="339.8">Had</text>
<text class="zl" x="206.7" y="341">Hal</text>
<text class="zl" x="194.2" y="346.5">Kemb</text>
<text class="zl" x="228.5" y="353">W.Arsi</text>
<text class="zl" x="176.7" y="355.1">Dawuro</text>
<text class="zl" x="161.7" y="358.5">Konta</text>
<text class="zl" x="194.2" y="358.5">Wolayita</text>
<text class="zl" x="217.5" y="364.3">Sidama</text>
<text class="zl" x="130" y="319">Ilu</text>
<text class="zl" x="73.8" y="322.6">Nuaer</text>
<text class="zl" x="95.5" y="316.8">Itang</text>
<text class="zl" x="101.7" y="338.8">Agnewak</text>
<text class="zl" x="129.7" y="339.8">Sheka</text>
<text class="zl" x="118.8" y="342.6">Maj</text>
<text class="zl" x="147.7" y="348.1">Kefa</text>
<text class="zl" x="127.2" y="356.5">Bench Sheko</text>
<text class="zl" x="132.2" y="378.8">Mirab Omo</text>
<text class="zl" x="157.5" y="374.3">Ba</text>
<text class="zl" x="170" y="373">Gofa</text>
<text class="zl" x="185.8" y="377.6">Gamo</text>
<text class="zl" x="209.7" y="378.8">Gedeo</text>
<text class="zl" x="196" y="388.5">Am</text>
<text class="zl" x="208.3" y="388.8">W.Guji</text>
<text class="zl" x="185" y="392.1">Der</text>
<text class="zl" x="175.8" y="394.8">Ale</text>
<text class="zl" x="194.2" y="397.3">Bur</text>
<text class="zl" x="184.2" y="401">Kon</text>
<text class="zl" x="156.7" y="400.5">S.Omo</text>
<text class="zl" x="209.2" y="426">Borena</text>
<text class="zl" x="249.7" y="328.1">Arsi</text>
<text class="zl" x="293.3" y="348.1">E.Bale</text>
<text class="zl" x="261.3" y="372.8">Bale</text>
<text class="zl" x="235.5" y="394.3">Guji</text>
<text class="zl" x="286.7" y="407.6">Liban</text>
<text class="zl" x="257.5" y="433.1">Daawa</text>
<text class="zl" x="323.3" y="401.8">Afder</text>
<text class="zl" x="323.3" y="330.1">Erer</text>
<text class="zl" x="342.5" y="351">Nogob</text>
<text class="zl" x="388.3" y="370.1">Korahe</text>
<text class="zl" x="360.8" y="388.5">Shabelle</text>
<text class="zl" x="379.2" y="323.1">Jarar</text>
<text class="zl" x="348.3" y="294.6">Fafan</text>
<text class="zl" x="430" y="347.6">Doolo</text>
</g>
<rect x="55.25" y="126.5" width="433.05" height="332.7" fill="none" stroke="#3a3a3a" stroke-width="0.75"/>
<g stroke="#5a5a5a" stroke-width="0.85">
<line x1="46.2" y1="155.80" x2="55.25" y2="155.80"/>
<line x1="46.2" y1="212.04" x2="55.25" y2="212.04"/>
<line x1="46.2" y1="268.28" x2="55.25" y2="268.28"/>
<line x1="46.2" y1="324.52" x2="55.25" y2="324.52"/>
<line x1="46.2" y1="380.76" x2="55.25" y2="380.76"/>
<line x1="46.2" y1="437.00" x2="55.25" y2="437.00"/>
<line x1="89.70" y1="459.2" x2="89.70" y2="468.5"/>
<line x1="145.91" y1="459.2" x2="145.91" y2="468.5"/>
<line x1="202.12" y1="459.2" x2="202.12" y2="468.5"/>
<line x1="258.33" y1="459.2" x2="258.33" y2="468.5"/>
<line x1="314.54" y1="459.2" x2="314.54" y2="468.5"/>
<line x1="370.75" y1="459.2" x2="370.75" y2="468.5"/>
<line x1="426.96" y1="459.2" x2="426.96" y2="468.5"/>
<line x1="483.17" y1="459.2" x2="483.17" y2="468.5"/>
</g>
<text class="ax" x="12.10" y="160.70" textLength="26.4" lengthAdjust="spacingAndGlyphs">14°N</text>
<text class="ax" x="12.10" y="216.94" textLength="26.4" lengthAdjust="spacingAndGlyphs">12°N</text>
<text class="ax" x="12.10" y="273.18" textLength="26.4" lengthAdjust="spacingAndGlyphs">10°N</text>
<text class="ax" x="18.90" y="329.42" textLength="19.6" lengthAdjust="spacingAndGlyphs">8°N</text>
<text class="ax" x="18.90" y="385.66" textLength="19.6" lengthAdjust="spacingAndGlyphs">6°N</text>
<text class="ax" x="18.90" y="441.90" textLength="19.6" lengthAdjust="spacingAndGlyphs">4°N</text>
<text class="ax" x="76.20" y="486" textLength="27" lengthAdjust="spacingAndGlyphs">34°E</text>
<text class="ax" x="132.41" y="486" textLength="27" lengthAdjust="spacingAndGlyphs">36°E</text>
<text class="ax" x="188.62" y="486" textLength="27" lengthAdjust="spacingAndGlyphs">38°E</text>
<text class="ax" x="244.83" y="486" textLength="27" lengthAdjust="spacingAndGlyphs">40°E</text>
<text class="ax" x="301.04" y="486" textLength="27" lengthAdjust="spacingAndGlyphs">42°E</text>
<text class="ax" x="357.25" y="486" textLength="27" lengthAdjust="spacingAndGlyphs">44°E</text>
<text class="ax" x="413.46" y="486" textLength="27" lengthAdjust="spacingAndGlyphs">46°E</text>
<text class="ax" x="469.67" y="486" textLength="27" lengthAdjust="spacingAndGlyphs">48°E</text>
<text x="55.6" y="122" font-size="17.6" font-weight="bold" fill="#000" textLength="435.5" lengthAdjust="spacingAndGlyphs">Daily maximum temperature (C) for 11-12 Apr 2026</text>
<rect x="519.8" y="130.60" width="26.2" height="29.45" fill="#FFB6BB" stroke="#222" stroke-width="0.4"/>
<rect x="519.8" y="160.05" width="26.2" height="29.45" fill="#CC0000" stroke="#222" stroke-width="0.4"/>
<rect x="519.8" y="189.49" width="26.2" height="29.45" fill="#FF3300" stroke="#222" stroke-width="0.4"/>
<rect x="519.8" y="218.94" width="26.2" height="29.45" fill="#FF9900" stroke="#222" stroke-width="0.4"/>
<rect x="519.8" y="248.38" width="26.2" height="29.45" fill="#FFD92E" stroke="#222" stroke-width="0.4"/>
<rect x="519.8" y="277.83" width="26.2" height="29.45" fill="#FFFFC8" stroke="#222" stroke-width="0.4"/>
<rect x="519.8" y="307.27" width="26.2" height="29.45" fill="#74C6F2" stroke="#222" stroke-width="0.4"/>
<rect x="519.8" y="336.72" width="26.2" height="29.45" fill="#12A8FF" stroke="#222" stroke-width="0.4"/>
<rect x="519.8" y="366.16" width="26.2" height="29.45" fill="#3373E6" stroke="#222" stroke-width="0.4"/>
<rect x="519.8" y="395.61" width="26.2" height="29.45" fill="#0A14F5" stroke="#222" stroke-width="0.4"/>
<rect x="519.8" y="425.05" width="26.2" height="29.45" fill="#7D23EB" stroke="#222" stroke-width="0.4"/>
<text class="cb" x="553.30" y="165.45" textLength="16.2" lengthAdjust="spacingAndGlyphs">40</text>
<text class="cb" x="553.30" y="194.89" textLength="16.2" lengthAdjust="spacingAndGlyphs">36</text>
<text class="cb" x="553.30" y="224.34" textLength="16.2" lengthAdjust="spacingAndGlyphs">32</text>
<text class="cb" x="553.30" y="253.78" textLength="16.2" lengthAdjust="spacingAndGlyphs">28</text>
<text class="cb" x="553.30" y="283.23" textLength="16.2" lengthAdjust="spacingAndGlyphs">24</text>
<text class="cb" x="553.30" y="312.67" textLength="16.2" lengthAdjust="spacingAndGlyphs">20</text>
<text class="cb" x="553.30" y="342.12" textLength="16.2" lengthAdjust="spacingAndGlyphs">16</text>
<text class="cb" x="553.30" y="371.56" textLength="16.2" lengthAdjust="spacingAndGlyphs">12</text>
<text class="cb" x="557.35" y="401.01" textLength="8.1" lengthAdjust="spacingAndGlyphs">8</text>
<text class="cb" x="557.35" y="430.45" textLength="8.1" lengthAdjust="spacingAndGlyphs">4</text>

<g id="logo">
<path d="M423,185.2V176.4a25.4,25.4 0 0 1 50.8,0V185.2" fill="none" stroke="#3f8ae8" stroke-width="1.3"/>
<path id="lgarc" d="M427.6,185 L427.6,176.6 A20.8,20.8 0 0 1 469.2,176.6 L469.2,185" fill="none"/>
<text font-size="5" font-weight="bold" fill="#1e62d0" style="font-family:'Noto Sans Ethiopic','Menbere','Liberation Sans','DejaVu Sans',sans-serif"><textPath href="#lgarc" startOffset="1.5" textLength="79" lengthAdjust="spacingAndGlyphs">የኢትዮጵያ ሜትዮሮሎጂ ኢንስቲትዩት</textPath></text>
<circle cx="440.3" cy="164.2" r="3.3" fill="#f28c1a"/><circle cx="440.5" cy="164.5" r="2.1" fill="#ffd321"/>
<g fill="#22356f"><ellipse cx="448.6" cy="165.3" rx="11.6" ry="2.7"/><circle cx="444.3" cy="163.6" r="2.7"/><circle cx="449.6" cy="162.4" r="3.4"/><circle cx="455" cy="163.8" r="2.6"/><ellipse cx="452" cy="166.3" rx="7.5" ry="2" fill="#1a2855"/></g>
<ellipse cx="447.5" cy="163" rx="5" ry="1.2" fill="#3d5fae" opacity="0.8"/>
<g stroke="#3a4f9a" stroke-width="0.45" stroke-linecap="round"><path d="M441.6,169.3v0.8M444.2,170.2v0.9M446.8,169.4v0.8M449.4,170.4v0.9M452,169.5v0.8M454.6,170.3v0.9M443,172.2v0.8M445.6,172.9v0.8M448.2,172.2v0.9M450.8,173v0.8M453.4,172.1v0.8M447,174.6v0.8M449.6,175.1v0.7"/></g>
<path d="M424.3,185.3 L428,182.6 Q433,179.8 437.5,179.6 L441.5,177.8 L446.2,174.6 L450.5,177.7 Q454,179 458,179.8 Q465,181 472.6,185.3 Z" fill="#4db32e"/>
<path d="M424.3,185.3 L428,182.6 Q433,179.8 437.5,179.6 Q436,182.5 438,185.3 Z" fill="#2f8f33"/>
<path d="M446.2,174.6 L450.5,177.7 Q453,178.8 455.5,179.3 Q450,179.6 446.6,178.6 Z" fill="#8fd14a"/>
<path d="M458,179.8 Q465,181 472.6,185.3 L460,185.3 Q462,182.5 458,179.8Z" fill="#2f8f33"/>
<path d="M447.2,179.6 Q450,181.6 454,181.9 Q458.5,182.4 459.2,185.2" fill="none" stroke="#33a9ee" stroke-width="1.1" stroke-linecap="round"/>
<text x="448.4" y="187.9" font-size="2.75" font-weight="bold" fill="#1c50c4" text-anchor="middle" textLength="44.5" lengthAdjust="spacingAndGlyphs">Ethiopian Meteorology Institute</text>
<path d="M426,189.2 Q448.4,191.4 471,189.2" fill="none" stroke="#3f86e3" stroke-width="0.5"/>
<circle cx="448.4" cy="191.6" r="1.6" fill="#e9eef8" stroke="#31406e" stroke-width="0.45"/>
<path d="M444.6,191.6h2.2M450,191.6h2.2" stroke="#31406e" stroke-width="0.5"/>
</g>

</svg></body></html>
